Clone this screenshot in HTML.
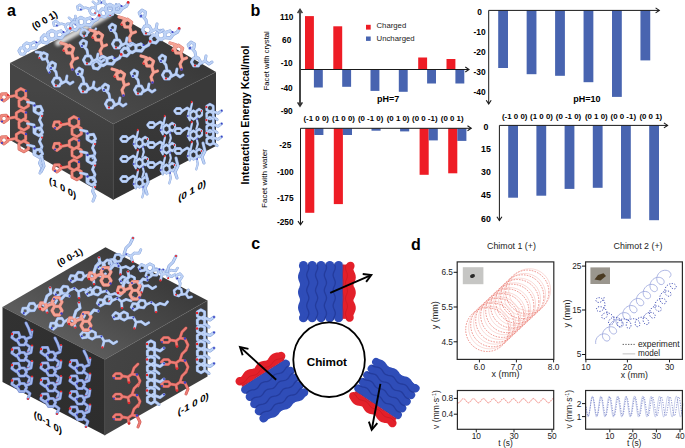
<!DOCTYPE html>
<html><head><meta charset="utf-8"><style>
html,body{margin:0;padding:0;background:#fff;}
svg{display:block;}
text{font-family:"Liberation Sans",sans-serif;}
</style></head><body>
<svg width="685" height="448" viewBox="0 0 685 448">
<rect width="685" height="448" fill="#fff"/>
<text x="250.6" y="15.8" font-size="16" font-weight="bold" text-anchor="start" fill="#000" >b</text>
<text transform="translate(249.2,115) rotate(-90)" font-size="10.5" font-weight="bold" text-anchor="middle" fill="#000">Interaction Energy Kcal/mol</text>
<text transform="translate(269.0,60.8) rotate(-90)" font-size="7.66" text-anchor="middle" fill="#000">Facet with crystal</text>
<text transform="translate(267.4,178.5) rotate(-90)" font-size="8.1" text-anchor="middle" fill="#000">Facet with water</text>
<text x="286.7" y="19.8" font-size="8.3" font-weight="bold" text-anchor="middle" fill="#000" >110</text>
<text x="286.7" y="43.0" font-size="8.3" font-weight="bold" text-anchor="middle" fill="#000" >60</text>
<text x="286.7" y="66.3" font-size="8.3" font-weight="bold" text-anchor="middle" fill="#000" >-10</text>
<text x="286.7" y="90.5" font-size="8.3" font-weight="bold" text-anchor="middle" fill="#000" >-40</text>
<text x="286.7" y="113.6" font-size="8.3" font-weight="bold" text-anchor="middle" fill="#000" >-90</text>
<rect x="305.00" y="16.10" width="8.90" height="53.40" fill="#ee1c25"/>
<rect x="313.90" y="69.50" width="8.90" height="18.00" fill="#4864b0"/>
<rect x="333.30" y="26.30" width="8.90" height="43.20" fill="#ee1c25"/>
<rect x="342.20" y="69.50" width="8.90" height="17.30" fill="#4864b0"/>
<rect x="370.50" y="69.50" width="8.90" height="21.40" fill="#4864b0"/>
<rect x="398.80" y="69.50" width="8.90" height="22.30" fill="#4864b0"/>
<rect x="418.20" y="57.50" width="8.90" height="12.00" fill="#ee1c25"/>
<rect x="427.10" y="69.50" width="8.90" height="14.00" fill="#4864b0"/>
<rect x="446.50" y="59.00" width="8.90" height="10.50" fill="#ee1c25"/>
<rect x="455.40" y="69.50" width="8.90" height="14.00" fill="#4864b0"/>
<line x1="300" y1="69.5" x2="469" y2="69.5" stroke="#1a1a1a" stroke-width="1.0"/>
<polyline points="465.30,72.00 469.00,69.50 465.30,67.00" fill="none" stroke="#1a1a1a" stroke-width="1.1" stroke-linejoin="miter"/>
<line x1="300" y1="9.5" x2="300" y2="106" stroke="#505050" stroke-width="1.6"/>
<line x1="300" y1="60" x2="300" y2="9.5" stroke="#404040" stroke-width="1.4"/>
<polyline points="302.40,13.20 300.00,9.50 297.60,13.20" fill="none" stroke="#404040" stroke-width="1.54" stroke-linejoin="miter"/>
<line x1="300" y1="60" x2="300" y2="106" stroke="#303030" stroke-width="1.4"/>
<polyline points="297.60,102.30 300.00,106.00 302.40,102.30" fill="none" stroke="#303030" stroke-width="1.54" stroke-linejoin="miter"/>
<rect x="366.00" y="24.80" width="4.70" height="4.80" fill="#ee1c25"/>
<rect x="366.00" y="36.50" width="4.70" height="4.40" fill="#4864b0"/>
<text x="376.5" y="28.4" font-size="7.75" text-anchor="start" fill="#222" >Charged</text>
<text x="376.5" y="41.1" font-size="7.8" text-anchor="start" fill="#222" >Uncharged</text>
<text x="377" y="102.3" font-size="9" font-weight="bold" text-anchor="start" fill="#000" >pH=7</text>
<text x="285.3" y="147.5" font-size="8.3" font-weight="bold" text-anchor="middle" fill="#000" >-25</text>
<text x="285.3" y="174.7" font-size="8.3" font-weight="bold" text-anchor="middle" fill="#000" >-100</text>
<text x="285.3" y="201.0" font-size="8.3" font-weight="bold" text-anchor="middle" fill="#000" >-175</text>
<text x="285.3" y="225.2" font-size="8.3" font-weight="bold" text-anchor="middle" fill="#000" >-250</text>
<rect x="305.20" y="128.30" width="9.10" height="84.50" fill="#ee1c25"/>
<rect x="314.30" y="128.30" width="9.10" height="6.70" fill="#4864b0"/>
<rect x="333.80" y="128.30" width="9.10" height="75.80" fill="#ee1c25"/>
<rect x="342.90" y="128.30" width="9.10" height="6.70" fill="#4864b0"/>
<rect x="371.50" y="128.30" width="9.10" height="2.40" fill="#4864b0"/>
<rect x="400.10" y="128.30" width="9.10" height="3.10" fill="#4864b0"/>
<rect x="419.60" y="128.30" width="9.10" height="46.50" fill="#ee1c25"/>
<rect x="428.70" y="128.30" width="9.10" height="12.10" fill="#4864b0"/>
<rect x="448.20" y="128.30" width="9.10" height="45.00" fill="#ee1c25"/>
<rect x="457.30" y="128.30" width="9.10" height="12.60" fill="#4864b0"/>
<line x1="300.5" y1="128.3" x2="471.2" y2="128.3" stroke="#1a1a1a" stroke-width="1.0"/>
<polyline points="467.50,130.80 471.20,128.30 467.50,125.80" fill="none" stroke="#1a1a1a" stroke-width="1.1" stroke-linejoin="miter"/>
<line x1="300.5" y1="128.3" x2="300.5" y2="224.8" stroke="#1a1a1a" stroke-width="1.0"/>
<polyline points="298.00,221.10 300.50,224.80 303.00,221.10" fill="none" stroke="#1a1a1a" stroke-width="1.1" stroke-linejoin="miter"/>
<text x="316.2" y="120.9" font-size="7.9" font-weight="bold" text-anchor="middle" fill="#000" >(-1 0 0)</text>
<text x="343.5" y="120.9" font-size="7.9" font-weight="bold" text-anchor="middle" fill="#000" >(1 0 0)</text>
<text x="370.6" y="120.9" font-size="7.9" font-weight="bold" text-anchor="middle" fill="#000" >(0 -1 0)</text>
<text x="398.1" y="120.9" font-size="7.9" font-weight="bold" text-anchor="middle" fill="#000" >(0 1 0)</text>
<text x="424.8" y="120.9" font-size="7.9" font-weight="bold" text-anchor="middle" fill="#000" >(0 0 -1)</text>
<text x="452.2" y="120.9" font-size="7.9" font-weight="bold" text-anchor="middle" fill="#000" >(0 0 1)</text>
<text x="479.5" y="15.0" font-size="8.4" font-weight="bold" text-anchor="middle" fill="#000" >0</text>
<text x="479.5" y="35.1" font-size="8.4" font-weight="bold" text-anchor="middle" fill="#000" >-10</text>
<text x="479.5" y="55.1" font-size="8.4" font-weight="bold" text-anchor="middle" fill="#000" >-20</text>
<text x="479.5" y="75.3" font-size="8.4" font-weight="bold" text-anchor="middle" fill="#000" >-30</text>
<text x="479.5" y="95.2" font-size="8.4" font-weight="bold" text-anchor="middle" fill="#000" >-40</text>
<rect x="498.20" y="10.40" width="9.80" height="57.60" fill="#4864b0"/>
<rect x="526.65" y="10.40" width="9.80" height="63.80" fill="#4864b0"/>
<rect x="555.10" y="10.40" width="9.80" height="65.40" fill="#4864b0"/>
<rect x="583.55" y="10.40" width="9.80" height="71.80" fill="#4864b0"/>
<rect x="612.00" y="10.40" width="9.80" height="86.50" fill="#4864b0"/>
<rect x="640.45" y="10.40" width="9.80" height="50.00" fill="#4864b0"/>
<line x1="488.7" y1="10.4" x2="659.3" y2="10.4" stroke="#1a1a1a" stroke-width="1.0"/>
<polyline points="655.60,12.90 659.30,10.40 655.60,7.90" fill="none" stroke="#1a1a1a" stroke-width="1.1" stroke-linejoin="miter"/>
<line x1="488.7" y1="10.4" x2="488.7" y2="103.9" stroke="#1a1a1a" stroke-width="1.0"/>
<polyline points="486.20,100.20 488.70,103.90 491.20,100.20" fill="none" stroke="#1a1a1a" stroke-width="1.1" stroke-linejoin="miter"/>
<text x="573.2" y="102.2" font-size="9" font-weight="bold" text-anchor="start" fill="#000" >pH=10</text>
<text x="514.7" y="119.0" font-size="7.9" font-weight="bold" text-anchor="middle" fill="#000" >(-1 0 0)</text>
<text x="541.5" y="119.0" font-size="7.9" font-weight="bold" text-anchor="middle" fill="#000" >(1 0 0)</text>
<text x="568.5" y="119.0" font-size="7.9" font-weight="bold" text-anchor="middle" fill="#000" >(0 -1 0)</text>
<text x="596.3" y="119.0" font-size="7.9" font-weight="bold" text-anchor="middle" fill="#000" >(0 1 0)</text>
<text x="623.3" y="119.0" font-size="7.9" font-weight="bold" text-anchor="middle" fill="#000" >(0 0 -1)</text>
<text x="650.8" y="119.0" font-size="7.9" font-weight="bold" text-anchor="middle" fill="#000" >(0 0 1)</text>
<text x="486" y="130.4" font-size="8.8" font-weight="bold" text-anchor="middle" fill="#000" >0</text>
<text x="486" y="151.6" font-size="8.8" font-weight="bold" text-anchor="middle" fill="#000" >15</text>
<text x="486" y="174.6" font-size="8.8" font-weight="bold" text-anchor="middle" fill="#000" >30</text>
<text x="486" y="198.2" font-size="8.8" font-weight="bold" text-anchor="middle" fill="#000" >45</text>
<text x="486" y="221.6" font-size="8.8" font-weight="bold" text-anchor="middle" fill="#000" >60</text>
<rect x="508.20" y="125.40" width="9.80" height="72.30" fill="#4864b0"/>
<rect x="536.40" y="125.40" width="9.80" height="70.30" fill="#4864b0"/>
<rect x="564.60" y="125.40" width="9.80" height="63.50" fill="#4864b0"/>
<rect x="592.80" y="125.40" width="9.80" height="62.40" fill="#4864b0"/>
<rect x="621.00" y="125.40" width="9.80" height="93.30" fill="#4864b0"/>
<rect x="649.20" y="125.40" width="9.80" height="94.80" fill="#4864b0"/>
<line x1="499.4" y1="125.4" x2="667.6" y2="125.4" stroke="#1a1a1a" stroke-width="1.0"/>
<polyline points="663.90,127.90 667.60,125.40 663.90,122.90" fill="none" stroke="#1a1a1a" stroke-width="1.1" stroke-linejoin="miter"/>
<line x1="499.4" y1="125.4" x2="499.4" y2="220.5" stroke="#1a1a1a" stroke-width="1.0"/>
<polyline points="496.90,216.80 499.40,220.50 501.90,216.80" fill="none" stroke="#1a1a1a" stroke-width="1.1" stroke-linejoin="miter"/>
<defs>
<linearGradient id="gTop1" x1="112" y1="12" x2="62" y2="92" gradientUnits="userSpaceOnUse"><stop offset="0" stop-color="#3a3a3a"/><stop offset="0.5" stop-color="#434343"/><stop offset="1" stop-color="#4b4b4b"/></linearGradient>
<linearGradient id="gLeft1" x1="0" y1="90" x2="0" y2="200" gradientUnits="userSpaceOnUse"><stop offset="0" stop-color="#454545"/><stop offset="1" stop-color="#383838"/></linearGradient>
<linearGradient id="gRight1" x1="0" y1="100" x2="0" y2="200" gradientUnits="userSpaceOnUse"><stop offset="0" stop-color="#3a3a3a"/><stop offset="1" stop-color="#323232"/></linearGradient>
<linearGradient id="gTop2" x1="105" y1="247" x2="54" y2="332" gradientUnits="userSpaceOnUse"><stop offset="0" stop-color="#3c3c3c"/><stop offset="0.5" stop-color="#4a4a4a"/><stop offset="1" stop-color="#5c5c5c"/></linearGradient>
<linearGradient id="gLeft2" x1="2" y1="307" x2="105" y2="435" gradientUnits="userSpaceOnUse"><stop offset="0" stop-color="#323232"/><stop offset="1" stop-color="#2d2d2d"/></linearGradient>
<linearGradient id="gRight2" x1="105" y1="358" x2="207" y2="382" gradientUnits="userSpaceOnUse"><stop offset="0" stop-color="#444444"/><stop offset="1" stop-color="#3d3d3d"/></linearGradient>
</defs>
<polygon points="10,63 112,12 216,72 113.3,124" fill="url(#gTop1)" />
<polygon points="10,63 113.3,124 113.3,199.8 10,140" fill="url(#gLeft1)" />
<polygon points="113.3,124 216,72 216,146 113.3,199.8" fill="url(#gRight1)" />
<polyline points="10,63 113.3,124 216,72" fill="none" stroke="#5e5e5e" stroke-width="1.2" opacity="0.25"/>
<line x1="113.3" y1="124" x2="113.3" y2="199.8" stroke="#484848" stroke-width="1.0"/>
<polygon points="2.5,307 105.5,247.3 207.5,300.5 104.8,359.5" fill="url(#gTop2)" />
<polygon points="2.5,307 104.8,359.5 104.8,435.3 2.5,382" fill="url(#gLeft2)" />
<polygon points="104.8,359.5 207.5,300.5 207.5,376.5 104.8,435.3" fill="url(#gRight2)" />
<polyline points="2.5,307 104.8,359.5 207.5,300.5" fill="none" stroke="#5e5e5e" stroke-width="1.2" opacity="0.25"/>
<line x1="104.8" y1="359.5" x2="104.8" y2="435.3" stroke="#484848" stroke-width="1.0"/>
<defs><g id="uS"><path d="M-4.96,-5.79 L-8.89,-3.40 L-12.93,-5.61 L-13.04,-10.21 L-9.11,-12.60 L-5.07,-10.39Z M-4.60,-10.50 L0.00,-12.00 L3.00,-8.50 L0.50,-5.00 L-4.40,-5.50 M3.00,-8.50 L7.50,-11.00 L9.00,-14.00 M-11.38,-3.17 L-14.16,-0.02 L-18.28,-0.85 L-19.62,-4.83 L-16.84,-7.98 L-12.72,-7.15Z" fill="none" stroke="#86a2da" stroke-width="3.3" stroke-linejoin="round" stroke-linecap="round"/><path d="M0.00,0.00 L5.00,1.50 M12.61,5.23 L10.98,10.01 L5.92,9.94 L4.43,5.11 L8.56,2.20Z M11.00,11.00 L12.50,16.50 L10.00,21.00 L11.50,26.00 M12.50,16.50 L16.50,15.00 M6.00,2.00 L3.00,7.00" fill="none" stroke="#d8766a" stroke-width="3.3" stroke-linejoin="round" stroke-linecap="round"/><path d="M-4.96,-5.79 L-8.89,-3.40 L-12.93,-5.61 L-13.04,-10.21 L-9.11,-12.60 L-5.07,-10.39Z M-4.60,-10.50 L0.00,-12.00 L3.00,-8.50 L0.50,-5.00 L-4.40,-5.50 M3.00,-8.50 L7.50,-11.00 L9.00,-14.00 M-11.38,-3.17 L-14.16,-0.02 L-18.28,-0.85 L-19.62,-4.83 L-16.84,-7.98 L-12.72,-7.15Z" fill="none" stroke="#bed3f6" stroke-width="2.4" stroke-linejoin="round" stroke-linecap="round"/><path d="M0.00,0.00 L5.00,1.50 M12.61,5.23 L10.98,10.01 L5.92,9.94 L4.43,5.11 L8.56,2.20Z M11.00,11.00 L12.50,16.50 L10.00,21.00 L11.50,26.00 M12.50,16.50 L16.50,15.00 M6.00,2.00 L3.00,7.00" fill="none" stroke="#f4a395" stroke-width="2.4" stroke-linejoin="round" stroke-linecap="round"/><circle cx="9.2" cy="-14.6" r="1.3" fill="#e3262b"/><circle cx="11.5" cy="26.5" r="1.3" fill="#3a3fc4"/><circle cx="2.5" cy="-11" r="1.1" fill="#3a3fc4"/><circle cx="2.6" cy="7.6" r="1.1" fill="#e3262b"/></g><g id="uB"><path d="M-4.96,-5.79 L-8.89,-3.40 L-12.93,-5.61 L-13.04,-10.21 L-9.11,-12.60 L-5.07,-10.39Z M-4.60,-10.50 L0.00,-12.00 L3.00,-8.50 L0.50,-5.00 L-4.40,-5.50 M3.00,-8.50 L7.50,-11.00 L9.00,-14.00 M-11.38,-3.17 L-14.16,-0.02 L-18.28,-0.85 L-19.62,-4.83 L-16.84,-7.98 L-12.72,-7.15Z" fill="none" stroke="#86a2da" stroke-width="3.3" stroke-linejoin="round" stroke-linecap="round"/><path d="M0.00,0.00 L5.00,1.50 M12.61,5.23 L10.98,10.01 L5.92,9.94 L4.43,5.11 L8.56,2.20Z M11.00,11.00 L12.50,16.50 L10.00,21.00 L11.50,26.00 M12.50,16.50 L16.50,15.00 M6.00,2.00 L3.00,7.00" fill="none" stroke="#86a2da" stroke-width="3.3" stroke-linejoin="round" stroke-linecap="round"/><path d="M-4.96,-5.79 L-8.89,-3.40 L-12.93,-5.61 L-13.04,-10.21 L-9.11,-12.60 L-5.07,-10.39Z M-4.60,-10.50 L0.00,-12.00 L3.00,-8.50 L0.50,-5.00 L-4.40,-5.50 M3.00,-8.50 L7.50,-11.00 L9.00,-14.00 M-11.38,-3.17 L-14.16,-0.02 L-18.28,-0.85 L-19.62,-4.83 L-16.84,-7.98 L-12.72,-7.15Z" fill="none" stroke="#bed3f6" stroke-width="2.4" stroke-linejoin="round" stroke-linecap="round"/><path d="M0.00,0.00 L5.00,1.50 M12.61,5.23 L10.98,10.01 L5.92,9.94 L4.43,5.11 L8.56,2.20Z M11.00,11.00 L12.50,16.50 L10.00,21.00 L11.50,26.00 M12.50,16.50 L16.50,15.00 M6.00,2.00 L3.00,7.00" fill="none" stroke="#bed3f6" stroke-width="2.4" stroke-linejoin="round" stroke-linecap="round"/><circle cx="9.2" cy="-14.6" r="1.3" fill="#e3262b"/><circle cx="11.5" cy="26.5" r="1.3" fill="#3a3fc4"/><circle cx="2.5" cy="-11" r="1.1" fill="#3a3fc4"/><circle cx="2.6" cy="7.6" r="1.1" fill="#e3262b"/></g><g id="ell"><path d="M4.60,0.00 L2.30,3.98 L-2.30,3.98 L-4.60,0.00 L-2.30,-3.98 L2.30,-3.98Z M0.00,-4.50 L-1.00,-10.00 L-3.50,-13.00 M-2.13,-14.06 L-6.09,-13.49 L-7.85,-17.08 L-4.98,-19.87 L-1.45,-18.00Z M4.50,1.50 L9.00,-1.00 L13.00,2.00 L16.00,0.00 M9.00,-1.00 L10.00,-6.00" fill="none" stroke="#86a2da" stroke-width="3.0" stroke-linejoin="round" stroke-linecap="round"/><path d="M4.60,0.00 L2.30,3.98 L-2.30,3.98 L-4.60,0.00 L-2.30,-3.98 L2.30,-3.98Z M0.00,-4.50 L-1.00,-10.00 L-3.50,-13.00 M-2.13,-14.06 L-6.09,-13.49 L-7.85,-17.08 L-4.98,-19.87 L-1.45,-18.00Z M4.50,1.50 L9.00,-1.00 L13.00,2.00 L16.00,0.00 M9.00,-1.00 L10.00,-6.00" fill="none" stroke="#bed3f6" stroke-width="2.1" stroke-linejoin="round" stroke-linecap="round"/><circle cx="-1" cy="3.5" r="1.1" fill="#e3262b"/><circle cx="-6" cy="-14" r="1.1" fill="#3a3fc4"/></g><g id="lf"><path d="M-13.27,4.15 L-16.94,6.90 L-20.69,4.26 L-19.34,-0.12 L-14.75,-0.19Z M-13.20,3.00 L-5.40,1.50 M4.74,2.59 L0.13,5.40 L-4.61,2.81 L-4.74,-2.59 L-0.13,-5.40 L4.61,-2.81Z M7.44,11.89 L2.83,14.70 L-1.91,12.11 L-2.04,6.71 L2.57,3.90 L7.31,6.49Z" fill="none" stroke="#cc645a" stroke-width="3.0" stroke-linejoin="round" stroke-linecap="round"/><path d="M6.50,8.00 L13.00,9.50 L13.00,17.00 M21.62,16.83 L17.98,20.17 L13.68,17.74 L14.66,12.91 L19.57,12.34Z M21.00,20.00 L18.50,26.00 L21.00,31.00 L19.00,36.00" fill="none" stroke="#86a2da" stroke-width="3.0" stroke-linejoin="round" stroke-linecap="round"/><path d="M-13.27,4.15 L-16.94,6.90 L-20.69,4.26 L-19.34,-0.12 L-14.75,-0.19Z M-13.20,3.00 L-5.40,1.50 M4.74,2.59 L0.13,5.40 L-4.61,2.81 L-4.74,-2.59 L-0.13,-5.40 L4.61,-2.81Z M7.44,11.89 L2.83,14.70 L-1.91,12.11 L-2.04,6.71 L2.57,3.90 L7.31,6.49Z" fill="none" stroke="#f08a7e" stroke-width="2.1" stroke-linejoin="round" stroke-linecap="round"/><path d="M6.50,8.00 L13.00,9.50 L13.00,17.00 M21.62,16.83 L17.98,20.17 L13.68,17.74 L14.66,12.91 L19.57,12.34Z M21.00,20.00 L18.50,26.00 L21.00,31.00 L19.00,36.00" fill="none" stroke="#bed3f6" stroke-width="2.1" stroke-linejoin="round" stroke-linecap="round"/><circle cx="5" cy="-3" r="1.2" fill="#3a3fc4"/><circle cx="13.5" cy="11.5" r="1.2" fill="#3a3fc4"/><circle cx="-19" cy="6" r="1.1" fill="#3a3fc4"/><circle cx="-13" cy="1" r="1.1" fill="#e3262b"/><circle cx="21" cy="22" r="1.0" fill="#e3262b"/></g><g id="rf"><path d="M-6.50,0.00 L-9.25,2.38 L-14.75,2.38 L-17.50,0.00 L-14.75,-2.38 L-9.25,-2.38Z M-6.50,0.00 L0.00,-3.00 L5.00,-1.00 L7.00,-8.00 M13.39,6.04 L9.12,8.25 L4.73,6.21 L4.61,1.96 L8.88,-0.25 L13.27,1.79Z M20.95,3.83 L17.11,5.82 L13.16,3.99 L13.05,0.17 L16.89,-1.82 L20.84,0.01Z M3.00,-1.00 L1.00,5.00 L4.00,9.00 M13.00,6.00 L15.00,13.00 L13.00,18.00" fill="none" stroke="#86a2da" stroke-width="3.0" stroke-linejoin="round" stroke-linecap="round"/><path d="M-6.50,0.00 L-9.25,2.38 L-14.75,2.38 L-17.50,0.00 L-14.75,-2.38 L-9.25,-2.38Z M-6.50,0.00 L0.00,-3.00 L5.00,-1.00 L7.00,-8.00 M13.39,6.04 L9.12,8.25 L4.73,6.21 L4.61,1.96 L8.88,-0.25 L13.27,1.79Z M20.95,3.83 L17.11,5.82 L13.16,3.99 L13.05,0.17 L16.89,-1.82 L20.84,0.01Z M3.00,-1.00 L1.00,5.00 L4.00,9.00 M13.00,6.00 L15.00,13.00 L13.00,18.00" fill="none" stroke="#bed3f6" stroke-width="2.1" stroke-linejoin="round" stroke-linecap="round"/><circle cx="6.5" cy="-9" r="1.2" fill="#e3262b"/><circle cx="1" cy="5" r="1.1" fill="#3a3fc4"/><circle cx="20" cy="0" r="1.0" fill="#e3262b"/><circle cx="14" cy="8" r="1.0" fill="#3a3fc4"/></g><g id="bt"><path d="M4.60,0.00 L2.30,3.98 L-2.30,3.98 L-4.60,0.00 L-2.30,-3.98 L2.30,-3.98Z M12.60,0.00 L10.30,3.98 L5.70,3.98 L3.40,0.00 L5.70,-3.98 L10.30,-3.98Z M-4.67,3.82 L-8.70,5.73 L-11.77,2.49 L-9.63,-1.43 L-5.24,-0.61Z M12.50,0.00 L16.00,4.00 L15.00,9.00" fill="none" stroke="#d8766a" stroke-width="3.0" stroke-linejoin="round" stroke-linecap="round"/><path d="M-10.00,-5.00 L-14.00,-10.00 L-12.00,-16.00 M22.82,11.18 L19.89,13.90 L16.07,12.72 L15.18,8.82 L18.11,6.10 L21.93,7.28Z M22.00,6.00 L24.00,0.00 L28.00,-3.00" fill="none" stroke="#86a2da" stroke-width="3.0" stroke-linejoin="round" stroke-linecap="round"/><path d="M4.60,0.00 L2.30,3.98 L-2.30,3.98 L-4.60,0.00 L-2.30,-3.98 L2.30,-3.98Z M12.60,0.00 L10.30,3.98 L5.70,3.98 L3.40,0.00 L5.70,-3.98 L10.30,-3.98Z M-4.67,3.82 L-8.70,5.73 L-11.77,2.49 L-9.63,-1.43 L-5.24,-0.61Z M12.50,0.00 L16.00,4.00 L15.00,9.00" fill="none" stroke="#f4a395" stroke-width="2.1" stroke-linejoin="round" stroke-linecap="round"/><path d="M-10.00,-5.00 L-14.00,-10.00 L-12.00,-16.00 M22.82,11.18 L19.89,13.90 L16.07,12.72 L15.18,8.82 L18.11,6.10 L21.93,7.28Z M22.00,6.00 L24.00,0.00 L28.00,-3.00" fill="none" stroke="#bed3f6" stroke-width="2.1" stroke-linejoin="round" stroke-linecap="round"/><circle cx="15" cy="9.5" r="1.2" fill="#e3262b"/><circle cx="-12" cy="-16.5" r="1.1" fill="#e3262b"/><circle cx="3" cy="3" r="1.1" fill="#3a3fc4"/><circle cx="24" cy="0" r="1.1" fill="#3a3fc4"/></g><g id="bb"><path d="M4.31,0.87 L1.40,4.17 L-2.91,3.30 L-4.31,-0.87 L-1.40,-4.17 L2.91,-3.30Z M-4.84,3.73 L-8.67,5.54 L-11.57,2.46 L-9.54,-1.25 L-5.38,-0.47Z M4.50,1.00 L10.00,-1.00 L14.00,3.00 L19.00,1.00 M14.00,3.00 L14.00,9.00 M19.00,1.00 L24.00,3.00 L27.00,0.00" fill="none" stroke="#86a2da" stroke-width="3.0" stroke-linejoin="round" stroke-linecap="round"/><path d="M4.31,0.87 L1.40,4.17 L-2.91,3.30 L-4.31,-0.87 L-1.40,-4.17 L2.91,-3.30Z M-4.84,3.73 L-8.67,5.54 L-11.57,2.46 L-9.54,-1.25 L-5.38,-0.47Z M4.50,1.00 L10.00,-1.00 L14.00,3.00 L19.00,1.00 M14.00,3.00 L14.00,9.00 M19.00,1.00 L24.00,3.00 L27.00,0.00" fill="none" stroke="#bed3f6" stroke-width="2.1" stroke-linejoin="round" stroke-linecap="round"/><circle cx="14" cy="9.8" r="1.2" fill="#e3262b"/><circle cx="-10" cy="4" r="1.1" fill="#3a3fc4"/><circle cx="10" cy="-1" r="1.0" fill="#3a3fc4"/></g><g id="lc"><path d="M4.20,1.30 L0.06,4.40 L-4.16,1.42 L-2.64,-3.52 L2.54,-3.60Z M10.60,5.00 L8.30,8.98 L3.70,8.98 L1.40,5.00 L3.70,1.02 L8.30,1.02Z M10.00,3.00 L15.00,1.00 L16.00,-5.00 M10.00,8.00 L14.00,11.00 L12.00,16.00" fill="none" stroke="#6279c2" stroke-width="3.0" stroke-linejoin="round" stroke-linecap="round"/><path d="M4.20,1.30 L0.06,4.40 L-4.16,1.42 L-2.64,-3.52 L2.54,-3.60Z M10.60,5.00 L8.30,8.98 L3.70,8.98 L1.40,5.00 L3.70,1.02 L8.30,1.02Z M10.00,3.00 L15.00,1.00 L16.00,-5.00 M10.00,8.00 L14.00,11.00 L12.00,16.00" fill="none" stroke="#a2b7ec" stroke-width="2.1" stroke-linejoin="round" stroke-linecap="round"/><circle cx="-4" cy="-2" r="1.2" fill="#e3262b"/><circle cx="16" cy="-6" r="1.1" fill="#e3262b"/><circle cx="12" cy="16.5" r="1.0" fill="#e3262b"/><circle cx="3" cy="4" r="1.0" fill="#3a3fc4"/></g><g id="rs"><path d="M4.60,0.00 L2.30,2.39 L-2.30,2.39 L-4.60,0.00 L-2.30,-2.39 L2.30,-2.39Z M4.60,0.00 L10.00,1.00 L14.00,-2.00 L19.00,-1.00 M14.00,-2.00 L16.00,-8.00 L20.00,-12.00 M19.00,-1.00 L22.00,5.00 L20.00,10.00 M10.00,1.00 L11.00,6.00" fill="none" stroke="#c8544e" stroke-width="2.9" stroke-linejoin="round" stroke-linecap="round"/><path d="M4.60,0.00 L2.30,2.39 L-2.30,2.39 L-4.60,0.00 L-2.30,-2.39 L2.30,-2.39Z M4.60,0.00 L10.00,1.00 L14.00,-2.00 L19.00,-1.00 M14.00,-2.00 L16.00,-8.00 L20.00,-12.00 M19.00,-1.00 L22.00,5.00 L20.00,10.00 M10.00,1.00 L11.00,6.00" fill="none" stroke="#ec7d76" stroke-width="2.0" stroke-linejoin="round" stroke-linecap="round"/><circle cx="11" cy="6.5" r="1.2" fill="#e3262b"/><circle cx="19" cy="-1.5" r="1.3" fill="#3a3fc4"/><circle cx="-4" cy="2" r="1.0" fill="#3a3fc4"/></g><g id="rc"><path d="M3.69,2.01 L0.10,4.20 L-3.59,2.19 L-3.69,-2.01 L-0.10,-4.20 L3.59,-2.19Z M3.69,10.01 L0.10,12.20 L-3.59,10.19 L-3.69,5.99 L-0.10,3.80 L3.59,5.81Z M4.00,4.00 L9.00,6.00 L13.00,3.00 M4.00,10.00 L8.00,13.00" fill="none" stroke="#86a2da" stroke-width="3.0" stroke-linejoin="round" stroke-linecap="round"/><path d="M3.69,2.01 L0.10,4.20 L-3.59,2.19 L-3.69,-2.01 L-0.10,-4.20 L3.59,-2.19Z M3.69,10.01 L0.10,12.20 L-3.59,10.19 L-3.69,5.99 L-0.10,3.80 L3.59,5.81Z M4.00,4.00 L9.00,6.00 L13.00,3.00 M4.00,10.00 L8.00,13.00" fill="none" stroke="#bed3f6" stroke-width="2.1" stroke-linejoin="round" stroke-linecap="round"/><circle cx="-4" cy="-1" r="1.2" fill="#e3262b"/><circle cx="13" cy="3" r="1.0" fill="#3a3fc4"/></g><g id="bs"><path d="M-10.37,5.12 L-13.95,7.80 L-17.60,5.23 L-16.28,0.96 L-11.81,0.89Z M-10.30,4.00 L-5.00,2.00 M5.00,0.00 L2.50,4.33 L-2.50,4.33 L-5.00,0.00 L-2.50,-4.33 L2.50,-4.33Z M5.00,8.66 L2.50,12.99 L-2.50,12.99 L-5.00,8.66 L-2.50,4.33 L2.50,4.33Z" fill="none" stroke="#d8766a" stroke-width="3.3" stroke-linejoin="round" stroke-linecap="round"/><path d="M-12.00,0.00 L-10.00,-6.00 L-6.00,-9.00 L-7.00,-14.00 M4.50,-3.00 L8.00,-7.00 L12.00,-6.00" fill="none" stroke="#86a2da" stroke-width="3.3" stroke-linejoin="round" stroke-linecap="round"/><path d="M-10.37,5.12 L-13.95,7.80 L-17.60,5.23 L-16.28,0.96 L-11.81,0.89Z M-10.30,4.00 L-5.00,2.00 M5.00,0.00 L2.50,4.33 L-2.50,4.33 L-5.00,0.00 L-2.50,-4.33 L2.50,-4.33Z M5.00,8.66 L2.50,12.99 L-2.50,12.99 L-5.00,8.66 L-2.50,4.33 L2.50,4.33Z" fill="none" stroke="#f4a395" stroke-width="2.4" stroke-linejoin="round" stroke-linecap="round"/><path d="M-12.00,0.00 L-10.00,-6.00 L-6.00,-9.00 L-7.00,-14.00 M4.50,-3.00 L8.00,-7.00 L12.00,-6.00" fill="none" stroke="#bed3f6" stroke-width="2.4" stroke-linejoin="round" stroke-linecap="round"/><circle cx="4.5" cy="11.5" r="1.2" fill="#3a3fc4"/><circle cx="-17" cy="7" r="1.2" fill="#e3262b"/><circle cx="-7" cy="-14.5" r="1.1" fill="#e3262b"/><circle cx="12.5" cy="-6" r="1.0" fill="#3a3fc4"/><circle cx="-3" cy="-3" r="1.0" fill="#3a3fc4"/></g></defs>
<filter id="blr" x="-20%" y="-50%" width="140%" height="200%"><feGaussianBlur stdDeviation="1.6"/></filter>
<path d="M58,43 L108,15" stroke="#ffffff" stroke-width="6" stroke-linecap="round" opacity="0.8" filter="url(#blr)"/>
<use href="#uB" transform="translate(36.0,52.0) rotate(-10) scale(0.850,0.850)"/>
<use href="#ell" transform="translate(110.0,12.0) rotate(-20) scale(0.850,0.850)"/>
<use href="#ell" transform="translate(69.0,27.0) rotate(-60) scale(0.800,0.800)"/>
<use href="#ell" transform="translate(93.0,11.0) rotate(-60) scale(0.800,0.800)"/>
<use href="#ell" transform="translate(84.0,33.0) rotate(-20) scale(0.800,0.800)"/>
<use href="#uS" transform="translate(119.0,17.0) rotate(0) scale(1.000,1.000)"/>
<use href="#uS" transform="translate(90.0,30.0) rotate(0) scale(1.000,1.000)"/>
<use href="#uS" transform="translate(61.0,43.0) rotate(0) scale(1.000,1.000)"/>
<use href="#uS" transform="translate(170.0,43.0) rotate(0) scale(1.000,1.000)"/>
<use href="#uS" transform="translate(141.0,56.0) rotate(0) scale(1.000,1.000)"/>
<use href="#uS" transform="translate(112.0,69.0) rotate(0) scale(1.000,1.000)"/>
<use href="#ell" transform="translate(117.0,44.0) rotate(0) scale(1.000,1.000)"/>
<use href="#ell" transform="translate(88.0,60.0) rotate(0) scale(1.000,1.000)"/>
<use href="#ell" transform="translate(147.0,30.0) rotate(0) scale(1.000,1.000)"/>
<use href="#ell" transform="translate(57.0,82.0) rotate(0) scale(1.000,1.000)"/>
<use href="#ell" transform="translate(110.0,104.0) rotate(0) scale(1.000,1.000)"/>
<use href="#ell" transform="translate(139.0,90.0) rotate(0) scale(1.000,1.000)"/>
<use href="#ell" transform="translate(167.0,75.0) rotate(0) scale(1.000,1.000)"/>
<use href="#ell" transform="translate(196.0,62.0) rotate(0) scale(1.000,1.000)"/>
<use href="#ell" transform="translate(84.0,88.0) rotate(0) scale(1.000,1.000)"/>
<use href="#lf" transform="translate(21.0,94.0) rotate(0) scale(1.000,1.000)"/>
<use href="#lf" transform="translate(21.0,115.5) rotate(0) scale(1.000,1.000)"/>
<use href="#lf" transform="translate(21.0,137.0) rotate(0) scale(1.000,1.000)"/>
<use href="#lf" transform="translate(74.0,122.0) rotate(0) scale(1.000,1.000)"/>
<use href="#lf" transform="translate(74.0,143.5) rotate(0) scale(1.000,1.000)"/>
<use href="#lf" transform="translate(74.0,165.0) rotate(0) scale(1.000,1.000)"/>
<path d="M42,158 L44,166 L41,172" stroke="#86a2da" stroke-width="3" fill="none"/><path d="M42,158 L44,166 L41,172" stroke="#bed3f6" stroke-width="2" fill="none"/>
<use href="#rf" transform="translate(133.0,139.0) rotate(0) scale(0.720,1.000)"/>
<use href="#rf" transform="translate(160.0,125.0) rotate(0) scale(0.720,1.000)"/>
<use href="#rf" transform="translate(187.0,111.0) rotate(0) scale(0.720,1.000)"/>
<use href="#rf" transform="translate(133.0,159.0) rotate(0) scale(0.720,1.000)"/>
<use href="#rf" transform="translate(160.0,145.0) rotate(0) scale(0.720,1.000)"/>
<use href="#rf" transform="translate(187.0,131.0) rotate(0) scale(0.720,1.000)"/>
<use href="#rf" transform="translate(133.0,179.0) rotate(0) scale(0.720,1.000)"/>
<use href="#rf" transform="translate(160.0,165.0) rotate(0) scale(0.720,1.000)"/>
<use href="#rf" transform="translate(187.0,151.0) rotate(0) scale(0.720,1.000)"/>
<use href="#rc" transform="translate(210.0,108.0) rotate(0) scale(0.900,0.900)"/>
<use href="#rc" transform="translate(210.0,121.0) rotate(0) scale(0.900,0.900)"/>
<use href="#rc" transform="translate(210.0,134.0) rotate(0) scale(0.900,0.900)"/>
<path d="M146,174 L148,182 L145,188 L147,194" stroke="#86a2da" stroke-width="3.1" fill="none" stroke-linecap="round"/><path d="M146,174 L148,182 L145,188 L147,194" stroke="#bed3f6" stroke-width="2" fill="none" stroke-linecap="round"/>
<path d="M176,158 L178,166 L175,172 L177,178" stroke="#86a2da" stroke-width="3.1" fill="none" stroke-linecap="round"/><path d="M176,158 L178,166 L175,172 L177,178" stroke="#bed3f6" stroke-width="2" fill="none" stroke-linecap="round"/>
<path d="M203,143 L205,151 L202,157 L204,163" stroke="#86a2da" stroke-width="3.1" fill="none" stroke-linecap="round"/><path d="M203,143 L205,151 L202,157 L204,163" stroke="#bed3f6" stroke-width="2" fill="none" stroke-linecap="round"/>
<use href="#bb" transform="translate(118.0,258.0) rotate(-20) scale(0.900,0.900)"/>
<use href="#bb" transform="translate(155.0,272.0) rotate(-10) scale(0.850,0.850)"/>
<use href="#ell" transform="translate(178.0,292.0) rotate(20) scale(0.900,0.900)"/>
<path d="M124,254 L126,248 L130,244 L133,238" stroke="#86a2da" stroke-width="3.0" fill="none" stroke-linecap="round"/><path d="M124,254 L126,248 L130,244 L133,238" stroke="#bed3f6" stroke-width="1.9" fill="none" stroke-linecap="round"/><circle cx="133" cy="238" r="1.1" fill="#e3262b"/>
<path d="M167,272 L169,266 L173,262 L176,256" stroke="#86a2da" stroke-width="3.0" fill="none" stroke-linecap="round"/><path d="M167,272 L169,266 L173,262 L176,256" stroke="#bed3f6" stroke-width="1.9" fill="none" stroke-linecap="round"/><circle cx="176" cy="256" r="1.1" fill="#e3262b"/>
<use href="#bb" transform="translate(65.0,290.0) rotate(-5) scale(0.950,0.950)"/>
<use href="#bb" transform="translate(80.0,276.0) rotate(-5) scale(0.950,0.950)"/>
<use href="#bb" transform="translate(108.0,264.0) rotate(5) scale(0.950,0.950)"/>
<use href="#bb" transform="translate(150.0,268.0) rotate(15) scale(0.950,0.950)"/>
<use href="#bb" transform="translate(32.0,307.0) rotate(-15) scale(0.950,0.950)"/>
<use href="#bb" transform="translate(60.0,322.0) rotate(-15) scale(0.950,0.950)"/>
<use href="#bb" transform="translate(92.0,335.0) rotate(15) scale(0.950,0.950)"/>
<use href="#bb" transform="translate(97.0,291.0) rotate(5) scale(0.950,0.950)"/>
<use href="#bb" transform="translate(108.0,300.0) rotate(-5) scale(0.950,0.950)"/>
<use href="#bb" transform="translate(142.0,304.0) rotate(-5) scale(0.950,0.950)"/>
<use href="#bb" transform="translate(124.0,316.0) rotate(15) scale(0.950,0.950)"/>
<use href="#bb" transform="translate(131.0,280.0) rotate(15) scale(0.950,0.950)"/>
<use href="#bs" transform="translate(106.0,272.0) rotate(0) scale(1.000,1.000)"/>
<use href="#bs" transform="translate(135.0,286.0) rotate(0) scale(1.000,1.000)"/>
<use href="#bs" transform="translate(57.0,302.0) rotate(0) scale(1.000,1.000)"/>
<use href="#bs" transform="translate(86.0,317.0) rotate(0) scale(1.000,1.000)"/>
<use href="#lc" transform="translate(16.0,336.0) rotate(0) scale(1.000,1.000)"/>
<use href="#lc" transform="translate(16.0,351.5) rotate(0) scale(1.000,1.000)"/>
<use href="#lc" transform="translate(16.0,367.0) rotate(0) scale(1.000,1.000)"/>
<use href="#lc" transform="translate(16.0,382.5) rotate(0) scale(1.000,1.000)"/>
<path d="M31,335 L28.5,328 L26,323" stroke="#6279c2" stroke-width="3.1" fill="none" stroke-linecap="round"/><path d="M31,335 L28.5,328 L26,323" stroke="#a2b7ec" stroke-width="2" fill="none" stroke-linecap="round"/>
<use href="#lc" transform="translate(45.0,351.0) rotate(0) scale(1.000,1.000)"/>
<use href="#lc" transform="translate(45.0,366.5) rotate(0) scale(1.000,1.000)"/>
<use href="#lc" transform="translate(45.0,382.0) rotate(0) scale(1.000,1.000)"/>
<use href="#lc" transform="translate(45.0,397.5) rotate(0) scale(1.000,1.000)"/>
<path d="M60,350 L57.5,343 L55,338" stroke="#6279c2" stroke-width="3.1" fill="none" stroke-linecap="round"/><path d="M60,350 L57.5,343 L55,338" stroke="#a2b7ec" stroke-width="2" fill="none" stroke-linecap="round"/>
<use href="#lc" transform="translate(74.0,364.0) rotate(0) scale(1.000,1.000)"/>
<use href="#lc" transform="translate(74.0,379.5) rotate(0) scale(1.000,1.000)"/>
<use href="#lc" transform="translate(74.0,395.0) rotate(0) scale(1.000,1.000)"/>
<use href="#lc" transform="translate(74.0,410.5) rotate(0) scale(1.000,1.000)"/>
<path d="M89,363 L86.5,356 L84,351" stroke="#6279c2" stroke-width="3.1" fill="none" stroke-linecap="round"/><path d="M89,363 L86.5,356 L84,351" stroke="#a2b7ec" stroke-width="2" fill="none" stroke-linecap="round"/>
<use href="#rs" transform="translate(118.0,376.0) rotate(0) scale(1.000,1.000)"/>
<use href="#rs" transform="translate(118.0,396.5) rotate(0) scale(1.000,1.000)"/>
<use href="#rs" transform="translate(118.0,417.0) rotate(0) scale(1.000,1.000)"/>
<use href="#rs" transform="translate(166.0,340.0) rotate(0) scale(1.000,1.000)"/>
<use href="#rs" transform="translate(166.0,362.0) rotate(0) scale(1.000,1.000)"/>
<use href="#rs" transform="translate(166.0,384.0) rotate(0) scale(1.000,1.000)"/>
<use href="#rc" transform="translate(151.0,345.0) rotate(0) scale(1.000,1.000)"/>
<use href="#rc" transform="translate(151.0,360.5) rotate(0) scale(1.000,1.000)"/>
<use href="#rc" transform="translate(151.0,376.0) rotate(0) scale(1.000,1.000)"/>
<use href="#rc" transform="translate(151.0,391.5) rotate(0) scale(1.000,1.000)"/>
<use href="#rc" transform="translate(201.0,314.0) rotate(0) scale(1.000,1.000)"/>
<use href="#rc" transform="translate(201.0,329.5) rotate(0) scale(1.000,1.000)"/>
<use href="#rc" transform="translate(201.0,345.0) rotate(0) scale(1.000,1.000)"/>
<use href="#rc" transform="translate(201.0,360.5) rotate(0) scale(1.000,1.000)"/>
<text transform="translate(46.3,23.1) rotate(-30)" font-size="9.6" font-weight="bold" text-anchor="middle" fill="#000">(0 0 1)</text>
<text transform="translate(62.6,191.1) skewY(30)" font-size="9.4" font-weight="bold" text-anchor="middle" fill="#000">(1 0 0)</text>
<text transform="translate(192.1,193.9) skewY(-30.5)" font-size="9.6" font-weight="bold" text-anchor="middle" fill="#000">(0 1 0)</text>
<text transform="translate(71.2,260.1) rotate(-28)" font-size="9.4" font-weight="bold" text-anchor="middle" fill="#000">(0 0-1)</text>
<text transform="translate(47.9,425.7) skewY(32)" font-size="9.6" font-weight="bold" text-anchor="middle" fill="#000">(0-1 0)</text>
<text transform="translate(193.3,407.2) skewY(-29)" font-size="9.6" font-weight="bold" text-anchor="middle" fill="#000">(-1 0 0)</text>
<text x="7.0" y="15.5" font-size="16" font-weight="bold" text-anchor="start" fill="#000" >a</text>
<text x="251.2" y="249.1" font-size="16" font-weight="bold" text-anchor="start" fill="#000" >c</text>
<text x="411.0" y="249.8" font-size="16" font-weight="bold" text-anchor="start" fill="#000" >d</text>
<g transform="translate(326.8,291.7) rotate(0) scale(1,1)"><rect x="-26.80" y="-26.69" width="43.00" height="53.38" fill="#2f4db8"/><circle cx="-23.40" cy="-26.25" r="4.40" fill="#2f4db8"/><circle cx="-23.40" cy="26.25" r="4.40" fill="#2f4db8"/><circle cx="-14.60" cy="-26.25" r="4.40" fill="#2f4db8"/><circle cx="-14.60" cy="26.25" r="4.40" fill="#2f4db8"/><circle cx="-5.80" cy="-26.25" r="4.40" fill="#2f4db8"/><circle cx="-5.80" cy="26.25" r="4.40" fill="#2f4db8"/><circle cx="3.00" cy="-26.25" r="4.40" fill="#2f4db8"/><circle cx="3.00" cy="26.25" r="4.40" fill="#2f4db8"/><circle cx="11.80" cy="-26.25" r="4.40" fill="#2f4db8"/><circle cx="11.80" cy="26.25" r="4.40" fill="#2f4db8"/><path d="M-25.60,-26.25 L-25.09,-24.94 L-24.72,-23.62 L-24.60,-22.31 L-24.77,-21.00 L-25.17,-19.69 L-25.69,-18.38 L-26.19,-17.06 L-26.52,-15.75 L-26.59,-14.44 L-26.38,-13.12 L-25.95,-11.81 L-25.42,-10.50 L-24.94,-9.19 L-24.65,-7.88 L-24.63,-6.56 L-24.88,-5.25 L-25.34,-3.94 L-25.87,-2.62 L-26.33,-1.31 L-26.58,0.00 L-26.55,1.31 L-26.25,2.62 L-25.77,3.94 L-25.24,5.25 L-24.81,6.56 L-24.61,7.88 L-24.69,9.19 L-25.02,10.50 L-25.52,11.81 L-26.05,13.12 L-26.44,14.44 L-26.60,15.75 L-26.47,17.06 L-26.10,18.38 L-25.58,19.69 L-25.07,21.00 L-24.71,22.31 L-24.60,23.62 L-24.78,24.94 L-25.18,26.25" stroke="#2f4db8" stroke-width="4.4" fill="none"/><rect x="15.90" y="-27.13" width="9.60" height="54.26" fill="#e3202a"/><path d="M23.60,-25.85 L22.99,-24.56 L22.55,-23.26 L22.40,-21.97 L22.58,-20.68 L23.04,-19.39 L23.65,-18.09 L24.25,-16.80 L24.67,-15.51 L24.80,-14.22 L24.59,-12.92 L24.12,-11.63 L23.50,-10.34 L22.91,-9.05 L22.51,-7.75 L22.41,-6.46 L22.64,-5.17 L23.13,-3.88 L23.75,-2.59 L24.34,-1.29 L24.71,0.00 L24.79,1.29 L24.53,2.58 L24.02,3.88 L23.39,5.17 L22.82,6.46 L22.47,7.75 L22.42,9.05 L22.70,10.34 L23.23,11.63 L23.86,12.92 L24.41,14.22 L24.75,15.51 L24.77,16.80 L24.46,18.10 L23.92,19.39 L23.29,20.68 L22.75,21.97 L22.44,23.26 L22.45,24.56 L22.77,25.85" stroke="#e3202a" stroke-width="8.40" fill="none" stroke-linecap="round"/><path d="M-19.00,-28.15 L-18.40,-26.74 L-17.99,-25.33 L-17.91,-23.93 L-18.19,-22.52 L-18.73,-21.11 L-19.35,-19.70 L-19.86,-18.30 L-20.10,-16.89 L-19.97,-15.48 L-19.53,-14.07 L-18.92,-12.67 L-18.33,-11.26 L-17.96,-9.85 L-17.93,-8.45 L-18.25,-7.04 L-18.81,-5.63 L-19.43,-4.22 L-19.91,-2.81 L-20.10,-1.41 L-19.93,0.00 L-19.46,1.41 L-18.84,2.81 L-18.27,4.22 L-17.94,5.63 L-17.95,7.04 L-18.31,8.45 L-18.89,9.85 L-19.50,11.26 L-19.96,12.67 L-20.10,14.08 L-19.88,15.48 L-19.38,16.89 L-18.75,18.30 L-18.21,19.70 L-17.92,21.11 L-17.98,22.52 L-18.37,23.93 L-18.97,25.34 L-19.58,26.74 L-19.99,28.15" stroke="#1f3592" stroke-width="1.3" fill="none" opacity="0.7"/><path d="M-10.20,-28.15 L-9.60,-26.74 L-9.19,-25.33 L-9.11,-23.93 L-9.39,-22.52 L-9.93,-21.11 L-10.55,-19.70 L-11.06,-18.30 L-11.30,-16.89 L-11.17,-15.48 L-10.73,-14.07 L-10.12,-12.67 L-9.53,-11.26 L-9.16,-9.85 L-9.13,-8.45 L-9.45,-7.04 L-10.01,-5.63 L-10.63,-4.22 L-11.11,-2.81 L-11.30,-1.41 L-11.13,0.00 L-10.66,1.41 L-10.04,2.81 L-9.47,4.22 L-9.14,5.63 L-9.15,7.04 L-9.51,8.45 L-10.09,9.85 L-10.70,11.26 L-11.16,12.67 L-11.30,14.08 L-11.08,15.48 L-10.58,16.89 L-9.95,18.30 L-9.41,19.70 L-9.12,21.11 L-9.18,22.52 L-9.57,23.93 L-10.17,25.34 L-10.78,26.74 L-11.19,28.15" stroke="#1f3592" stroke-width="1.3" fill="none" opacity="0.7"/><path d="M-1.40,-28.15 L-0.80,-26.74 L-0.39,-25.33 L-0.31,-23.93 L-0.59,-22.52 L-1.13,-21.11 L-1.75,-19.70 L-2.26,-18.30 L-2.50,-16.89 L-2.37,-15.48 L-1.93,-14.07 L-1.32,-12.67 L-0.73,-11.26 L-0.36,-9.85 L-0.33,-8.45 L-0.65,-7.04 L-1.21,-5.63 L-1.83,-4.22 L-2.31,-2.81 L-2.50,-1.41 L-2.33,0.00 L-1.86,1.41 L-1.24,2.81 L-0.67,4.22 L-0.34,5.63 L-0.35,7.04 L-0.71,8.45 L-1.29,9.85 L-1.90,11.26 L-2.36,12.67 L-2.50,14.08 L-2.28,15.48 L-1.78,16.89 L-1.15,18.30 L-0.61,19.70 L-0.32,21.11 L-0.38,22.52 L-0.77,23.93 L-1.37,25.34 L-1.98,26.74 L-2.39,28.15" stroke="#1f3592" stroke-width="1.3" fill="none" opacity="0.7"/><path d="M7.40,-28.15 L8.00,-26.74 L8.41,-25.33 L8.49,-23.93 L8.21,-22.52 L7.67,-21.11 L7.05,-19.70 L6.54,-18.30 L6.30,-16.89 L6.43,-15.48 L6.87,-14.07 L7.48,-12.67 L8.07,-11.26 L8.44,-9.85 L8.47,-8.45 L8.15,-7.04 L7.59,-5.63 L6.97,-4.22 L6.49,-2.81 L6.30,-1.41 L6.47,0.00 L6.94,1.41 L7.56,2.81 L8.13,4.22 L8.46,5.63 L8.45,7.04 L8.09,8.45 L7.51,9.85 L6.90,11.26 L6.44,12.67 L6.30,14.08 L6.52,15.48 L7.02,16.89 L7.65,18.30 L8.19,19.70 L8.48,21.11 L8.42,22.52 L8.03,23.93 L7.43,25.34 L6.82,26.74 L6.41,28.15" stroke="#1f3592" stroke-width="1.3" fill="none" opacity="0.7"/><path d="M16.20,-28.15 L16.53,-26.74 L16.75,-25.33 L16.79,-23.93 L16.64,-22.52 L16.35,-21.11 L16.01,-19.70 L15.73,-18.30 L15.60,-16.89 L15.67,-15.48 L15.91,-14.07 L16.24,-12.67 L16.56,-11.26 L16.77,-9.85 L16.78,-8.45 L16.61,-7.04 L16.31,-5.63 L15.97,-4.22 L15.70,-2.81 L15.60,-1.41 L15.69,0.00 L15.95,1.41 L16.29,2.81 L16.60,4.22 L16.78,5.63 L16.77,7.04 L16.58,8.45 L16.26,9.85 L15.92,11.26 L15.68,12.67 L15.60,14.08 L15.72,15.48 L15.99,16.89 L16.33,18.30 L16.63,19.70 L16.79,21.11 L16.76,22.52 L16.54,23.93 L16.22,25.34 L15.89,26.74 L15.66,28.15" stroke="#5a2a6a" stroke-width="0.8" fill="none" opacity="0.35"/><path d="M19.70,-27.65 L19.16,-26.27 L18.79,-24.88 L18.71,-23.50 L18.94,-22.12 L19.40,-20.74 L19.96,-19.36 L20.44,-17.97 L20.69,-16.59 L20.62,-15.21 L20.27,-13.82 L19.74,-12.44 L19.19,-11.06 L18.81,-9.68 L18.70,-8.30 L18.91,-6.91 L19.37,-5.53 L19.92,-4.15 L20.41,-2.77 L20.68,-1.38 L20.64,0.00 L20.30,1.38 L19.78,2.77 L19.23,4.15 L18.83,5.53 L18.70,6.91 L18.89,8.30 L19.33,9.68 L19.89,11.06 L20.39,12.44 L20.67,13.83 L20.65,15.21 L20.33,16.59 L19.81,17.97 L19.26,19.35 L18.85,20.74 L18.70,22.12 L18.87,23.50 L19.30,24.89 L19.85,26.27 L20.36,27.65" stroke="#b0141c" stroke-width="0.8" fill="none" opacity="0.45"/></g>
<g transform="translate(272.0,386.8) rotate(-122.5) scale(1,1)"><rect x="-25.25" y="-24.43" width="41.50" height="48.85" fill="#2f4db8"/><circle cx="-22.00" cy="-24.00" r="4.25" fill="#2f4db8"/><circle cx="-22.00" cy="24.00" r="4.25" fill="#2f4db8"/><circle cx="-13.50" cy="-24.00" r="4.25" fill="#2f4db8"/><circle cx="-13.50" cy="24.00" r="4.25" fill="#2f4db8"/><circle cx="-5.00" cy="-24.00" r="4.25" fill="#2f4db8"/><circle cx="-5.00" cy="24.00" r="4.25" fill="#2f4db8"/><circle cx="3.50" cy="-24.00" r="4.25" fill="#2f4db8"/><circle cx="3.50" cy="24.00" r="4.25" fill="#2f4db8"/><circle cx="12.00" cy="-24.00" r="4.25" fill="#2f4db8"/><circle cx="12.00" cy="24.00" r="4.25" fill="#2f4db8"/><path d="M-24.05,-24.00 L-23.58,-22.80 L-23.22,-21.60 L-23.05,-20.40 L-23.13,-19.20 L-23.42,-18.00 L-23.87,-16.80 L-24.35,-15.60 L-24.77,-14.40 L-25.01,-13.20 L-25.03,-12.00 L-24.81,-10.80 L-24.41,-9.60 L-23.93,-8.40 L-23.47,-7.20 L-23.15,-6.00 L-23.05,-4.80 L-23.18,-3.60 L-23.52,-2.40 L-23.99,-1.20 L-24.47,0.00 L-24.85,1.20 L-25.04,2.40 L-24.99,3.60 L-24.72,4.80 L-24.29,6.00 L-23.81,7.20 L-23.38,8.40 L-23.11,9.60 L-23.06,10.80 L-23.25,12.00 L-23.63,13.20 L-24.11,14.40 L-24.58,15.60 L-24.92,16.80 L-25.05,18.00 L-24.95,19.20 L-24.63,20.40 L-24.17,21.60 L-23.69,22.80 L-23.29,24.00" stroke="#2f4db8" stroke-width="4.4" fill="none"/><rect x="15.95" y="-24.85" width="8.00" height="49.70" fill="#e3202a"/><path d="M22.05,-24.25 L21.48,-23.04 L21.04,-21.82 L20.85,-20.61 L20.95,-19.40 L21.32,-18.19 L21.87,-16.98 L22.45,-15.76 L22.95,-14.55 L23.22,-13.34 L23.21,-12.12 L22.92,-10.91 L22.41,-9.70 L21.82,-8.49 L21.29,-7.27 L20.94,-6.06 L20.86,-4.85 L21.07,-3.64 L21.52,-2.43 L22.09,-1.21 L22.66,0.00 L23.08,1.21 L23.25,2.43 L23.13,3.64 L22.74,4.85 L22.19,6.06 L21.61,7.27 L21.13,8.49 L20.87,9.70 L20.90,10.91 L21.21,12.12 L21.73,13.34 L22.32,14.55 L22.84,15.76 L23.18,16.98 L23.24,18.19 L23.01,19.40 L22.55,20.61 L21.96,21.83 L21.40,23.04 L21.00,24.25" stroke="#e3202a" stroke-width="8.40" fill="none" stroke-linecap="round"/><path d="M-17.75,-25.75 L-17.20,-24.46 L-16.79,-23.18 L-16.65,-21.89 L-16.81,-20.60 L-17.22,-19.31 L-17.78,-18.02 L-18.33,-16.74 L-18.72,-15.45 L-18.85,-14.16 L-18.67,-12.88 L-18.25,-11.59 L-17.68,-10.30 L-17.14,-9.01 L-16.76,-7.73 L-16.65,-6.44 L-16.85,-5.15 L-17.29,-3.86 L-17.85,-2.57 L-18.39,-1.29 L-18.75,0.00 L-18.84,1.29 L-18.63,2.57 L-18.18,3.86 L-17.61,5.15 L-17.08,6.44 L-16.73,7.73 L-16.66,9.01 L-16.89,10.30 L-17.35,11.59 L-17.92,12.88 L-18.44,14.16 L-18.78,15.45 L-18.83,16.74 L-18.59,18.02 L-18.12,19.31 L-17.55,20.60 L-17.03,21.89 L-16.71,23.17 L-16.67,24.46 L-16.93,25.75" stroke="#1f3592" stroke-width="1.3" fill="none" opacity="0.7"/><path d="M-9.25,-25.75 L-8.70,-24.46 L-8.29,-23.18 L-8.15,-21.89 L-8.31,-20.60 L-8.72,-19.31 L-9.28,-18.02 L-9.83,-16.74 L-10.22,-15.45 L-10.35,-14.16 L-10.17,-12.88 L-9.75,-11.59 L-9.18,-10.30 L-8.64,-9.01 L-8.26,-7.73 L-8.15,-6.44 L-8.35,-5.15 L-8.79,-3.86 L-9.35,-2.57 L-9.89,-1.29 L-10.25,0.00 L-10.34,1.29 L-10.13,2.57 L-9.68,3.86 L-9.11,5.15 L-8.58,6.44 L-8.23,7.73 L-8.16,9.01 L-8.39,10.30 L-8.85,11.59 L-9.42,12.88 L-9.94,14.16 L-10.28,15.45 L-10.33,16.74 L-10.09,18.02 L-9.62,19.31 L-9.05,20.60 L-8.53,21.89 L-8.21,23.17 L-8.17,24.46 L-8.43,25.75" stroke="#1f3592" stroke-width="1.3" fill="none" opacity="0.7"/><path d="M-0.75,-25.75 L-0.20,-24.46 L0.21,-23.18 L0.35,-21.89 L0.19,-20.60 L-0.22,-19.31 L-0.78,-18.02 L-1.33,-16.74 L-1.72,-15.45 L-1.85,-14.16 L-1.67,-12.88 L-1.25,-11.59 L-0.68,-10.30 L-0.14,-9.01 L0.24,-7.73 L0.35,-6.44 L0.15,-5.15 L-0.29,-3.86 L-0.85,-2.57 L-1.39,-1.29 L-1.75,0.00 L-1.84,1.29 L-1.63,2.57 L-1.18,3.86 L-0.61,5.15 L-0.08,6.44 L0.27,7.73 L0.34,9.01 L0.11,10.30 L-0.35,11.59 L-0.92,12.88 L-1.44,14.16 L-1.78,15.45 L-1.83,16.74 L-1.59,18.02 L-1.12,19.31 L-0.55,20.60 L-0.03,21.89 L0.29,23.17 L0.33,24.46 L0.07,25.75" stroke="#1f3592" stroke-width="1.3" fill="none" opacity="0.7"/><path d="M7.75,-25.75 L8.30,-24.46 L8.71,-23.18 L8.85,-21.89 L8.69,-20.60 L8.28,-19.31 L7.72,-18.02 L7.17,-16.74 L6.78,-15.45 L6.65,-14.16 L6.83,-12.88 L7.25,-11.59 L7.82,-10.30 L8.36,-9.01 L8.74,-7.73 L8.85,-6.44 L8.65,-5.15 L8.21,-3.86 L7.65,-2.57 L7.11,-1.29 L6.75,0.00 L6.66,1.29 L6.87,2.57 L7.32,3.86 L7.89,5.15 L8.42,6.44 L8.77,7.73 L8.84,9.01 L8.61,10.30 L8.15,11.59 L7.58,12.88 L7.06,14.16 L6.72,15.45 L6.67,16.74 L6.91,18.02 L7.38,19.31 L7.95,20.60 L8.47,21.89 L8.79,23.17 L8.83,24.46 L8.57,25.75" stroke="#1f3592" stroke-width="1.3" fill="none" opacity="0.7"/><path d="M16.25,-25.75 L16.55,-24.46 L16.77,-23.18 L16.85,-21.89 L16.76,-20.60 L16.54,-19.31 L16.23,-18.02 L15.93,-16.74 L15.72,-15.45 L15.65,-14.16 L15.75,-12.88 L15.98,-11.59 L16.29,-10.30 L16.58,-9.01 L16.79,-7.73 L16.85,-6.44 L16.74,-5.15 L16.50,-3.86 L16.19,-2.57 L15.90,-1.29 L15.70,0.00 L15.65,1.29 L15.77,2.57 L16.01,3.86 L16.32,5.15 L16.61,6.44 L16.80,7.73 L16.84,9.01 L16.72,10.30 L16.47,11.59 L16.16,12.88 L15.87,14.16 L15.69,15.45 L15.66,16.74 L15.79,18.02 L16.05,19.31 L16.36,20.60 L16.64,21.89 L16.82,23.17 L16.84,24.46 L16.70,25.75" stroke="#5a2a6a" stroke-width="0.8" fill="none" opacity="0.35"/><path d="M19.75,-25.25 L19.25,-23.99 L18.89,-22.73 L18.75,-21.46 L18.87,-20.20 L19.23,-18.94 L19.72,-17.68 L20.22,-16.41 L20.59,-15.15 L20.75,-13.89 L20.64,-12.62 L20.30,-11.36 L19.81,-10.10 L19.31,-8.84 L18.92,-7.57 L18.75,-6.31 L18.85,-5.05 L19.18,-3.79 L19.66,-2.52 L20.16,-1.26 L20.56,0.00 L20.74,1.26 L20.67,2.52 L20.35,3.79 L19.87,5.05 L19.36,6.31 L18.96,7.58 L18.76,8.84 L18.82,10.10 L19.13,11.36 L19.60,12.62 L20.11,13.89 L20.52,15.15 L20.74,16.41 L20.69,17.67 L20.40,18.94 L19.93,20.20 L19.42,21.46 L19.00,22.73 L18.77,23.99 L18.80,25.25" stroke="#b0141c" stroke-width="0.8" fill="none" opacity="0.45"/></g>
<g transform="translate(384.2,392.6) rotate(123.7) scale(1,1)"><rect x="-24.00" y="-24.15" width="39.00" height="48.30" fill="#2f4db8"/><circle cx="-21.00" cy="-23.75" r="4.00" fill="#2f4db8"/><circle cx="-21.00" cy="23.75" r="4.00" fill="#2f4db8"/><circle cx="-13.00" cy="-23.75" r="4.00" fill="#2f4db8"/><circle cx="-13.00" cy="23.75" r="4.00" fill="#2f4db8"/><circle cx="-5.00" cy="-23.75" r="4.00" fill="#2f4db8"/><circle cx="-5.00" cy="23.75" r="4.00" fill="#2f4db8"/><circle cx="3.00" cy="-23.75" r="4.00" fill="#2f4db8"/><circle cx="3.00" cy="23.75" r="4.00" fill="#2f4db8"/><circle cx="11.00" cy="-23.75" r="4.00" fill="#2f4db8"/><circle cx="11.00" cy="23.75" r="4.00" fill="#2f4db8"/><path d="M-22.80,-23.75 L-22.33,-22.56 L-21.97,-21.38 L-21.81,-20.19 L-21.87,-19.00 L-22.15,-17.81 L-22.59,-16.62 L-23.07,-15.44 L-23.49,-14.25 L-23.75,-13.06 L-23.79,-11.88 L-23.59,-10.69 L-23.22,-9.50 L-22.74,-8.31 L-22.28,-7.12 L-21.94,-5.94 L-21.80,-4.75 L-21.89,-3.56 L-22.20,-2.38 L-22.64,-1.19 L-23.12,0.00 L-23.53,1.19 L-23.76,2.38 L-23.78,3.56 L-23.56,4.75 L-23.17,5.94 L-22.69,7.12 L-22.23,8.31 L-21.91,9.50 L-21.80,10.69 L-21.92,11.88 L-22.24,13.06 L-22.70,14.25 L-23.18,15.44 L-23.57,16.62 L-23.78,17.81 L-23.76,19.00 L-23.52,20.19 L-23.11,21.38 L-22.63,22.56 L-22.19,23.75" stroke="#2f4db8" stroke-width="4.4" fill="none"/><rect x="14.70" y="-24.55" width="8.00" height="49.10" fill="#e3202a"/><path d="M20.80,-23.75 L20.24,-22.56 L19.81,-21.38 L19.61,-20.19 L19.69,-19.00 L20.02,-17.81 L20.54,-16.62 L21.12,-15.44 L21.63,-14.25 L21.94,-13.06 L21.98,-11.88 L21.75,-10.69 L21.30,-9.50 L20.73,-8.31 L20.18,-7.12 L19.77,-5.94 L19.60,-4.75 L19.71,-3.56 L20.08,-2.38 L20.61,-1.19 L21.19,0.00 L21.67,1.19 L21.96,2.38 L21.97,3.56 L21.71,4.75 L21.24,5.94 L20.66,7.12 L20.12,8.31 L19.74,9.50 L19.60,10.69 L19.74,11.88 L20.13,13.06 L20.68,14.25 L21.25,15.44 L21.72,16.62 L21.97,17.81 L21.95,19.00 L21.67,20.19 L21.18,21.38 L20.60,22.56 L20.07,23.75" stroke="#e3202a" stroke-width="8.40" fill="none" stroke-linecap="round"/><path d="M-17.00,-25.25 L-16.45,-23.99 L-16.05,-22.73 L-15.90,-21.46 L-16.04,-20.20 L-16.43,-18.94 L-16.97,-17.68 L-17.52,-16.41 L-17.93,-15.15 L-18.10,-13.89 L-17.98,-12.62 L-17.60,-11.36 L-17.07,-10.10 L-16.51,-8.84 L-16.09,-7.57 L-15.90,-6.31 L-16.01,-5.05 L-16.37,-3.79 L-16.90,-2.52 L-17.45,-1.26 L-17.89,0.00 L-18.09,1.26 L-18.01,2.52 L-17.66,3.79 L-17.14,5.05 L-16.58,6.31 L-16.13,7.58 L-15.91,8.84 L-15.98,10.10 L-16.31,11.36 L-16.83,12.62 L-17.39,13.89 L-17.85,15.15 L-18.08,16.41 L-18.03,17.67 L-17.71,18.94 L-17.20,20.20 L-16.64,21.46 L-16.17,22.73 L-15.92,23.99 L-15.96,25.25" stroke="#1f3592" stroke-width="1.3" fill="none" opacity="0.7"/><path d="M-9.00,-25.25 L-8.45,-23.99 L-8.05,-22.73 L-7.90,-21.46 L-8.04,-20.20 L-8.43,-18.94 L-8.97,-17.68 L-9.52,-16.41 L-9.93,-15.15 L-10.10,-13.89 L-9.98,-12.62 L-9.60,-11.36 L-9.07,-10.10 L-8.51,-8.84 L-8.09,-7.57 L-7.90,-6.31 L-8.01,-5.05 L-8.37,-3.79 L-8.90,-2.52 L-9.45,-1.26 L-9.89,0.00 L-10.09,1.26 L-10.01,2.52 L-9.66,3.79 L-9.14,5.05 L-8.58,6.31 L-8.13,7.58 L-7.91,8.84 L-7.98,10.10 L-8.31,11.36 L-8.83,12.62 L-9.39,13.89 L-9.85,15.15 L-10.08,16.41 L-10.03,17.67 L-9.71,18.94 L-9.20,20.20 L-8.64,21.46 L-8.17,22.73 L-7.92,23.99 L-7.96,25.25" stroke="#1f3592" stroke-width="1.3" fill="none" opacity="0.7"/><path d="M-1.00,-25.25 L-0.45,-23.99 L-0.05,-22.73 L0.10,-21.46 L-0.04,-20.20 L-0.43,-18.94 L-0.97,-17.68 L-1.52,-16.41 L-1.93,-15.15 L-2.10,-13.89 L-1.98,-12.62 L-1.60,-11.36 L-1.07,-10.10 L-0.51,-8.84 L-0.09,-7.57 L0.10,-6.31 L-0.01,-5.05 L-0.37,-3.79 L-0.90,-2.52 L-1.45,-1.26 L-1.89,0.00 L-2.09,1.26 L-2.01,2.52 L-1.66,3.79 L-1.14,5.05 L-0.58,6.31 L-0.13,7.58 L0.09,8.84 L0.02,10.10 L-0.31,11.36 L-0.83,12.62 L-1.39,13.89 L-1.85,15.15 L-2.08,16.41 L-2.03,17.67 L-1.71,18.94 L-1.20,20.20 L-0.64,21.46 L-0.17,22.73 L0.08,23.99 L0.04,25.25" stroke="#1f3592" stroke-width="1.3" fill="none" opacity="0.7"/><path d="M7.00,-25.25 L7.55,-23.99 L7.95,-22.73 L8.10,-21.46 L7.96,-20.20 L7.57,-18.94 L7.03,-17.68 L6.48,-16.41 L6.07,-15.15 L5.90,-13.89 L6.02,-12.62 L6.40,-11.36 L6.93,-10.10 L7.49,-8.84 L7.91,-7.57 L8.10,-6.31 L7.99,-5.05 L7.63,-3.79 L7.10,-2.52 L6.55,-1.26 L6.11,0.00 L5.91,1.26 L5.99,2.52 L6.34,3.79 L6.86,5.05 L7.42,6.31 L7.87,7.58 L8.09,8.84 L8.02,10.10 L7.69,11.36 L7.17,12.62 L6.61,13.89 L6.15,15.15 L5.92,16.41 L5.97,17.67 L6.29,18.94 L6.80,20.20 L7.36,21.46 L7.83,22.73 L8.08,23.99 L8.04,25.25" stroke="#1f3592" stroke-width="1.3" fill="none" opacity="0.7"/><path d="M15.00,-25.25 L15.30,-23.99 L15.52,-22.73 L15.60,-21.46 L15.53,-20.20 L15.31,-18.94 L15.02,-17.68 L14.72,-16.41 L14.49,-15.15 L14.40,-13.89 L14.47,-12.62 L14.67,-11.36 L14.96,-10.10 L15.26,-8.84 L15.50,-7.57 L15.60,-6.31 L15.54,-5.05 L15.34,-3.79 L15.06,-2.52 L14.75,-1.26 L14.51,0.00 L14.40,1.26 L14.45,2.52 L14.64,3.79 L14.93,5.05 L15.23,6.31 L15.48,7.58 L15.59,8.84 L15.56,10.10 L15.37,11.36 L15.09,12.62 L14.79,13.89 L14.54,15.15 L14.41,16.41 L14.44,17.67 L14.61,18.94 L14.89,20.20 L15.20,21.46 L15.45,22.73 L15.59,23.99 L15.57,25.25" stroke="#5a2a6a" stroke-width="0.8" fill="none" opacity="0.35"/><path d="M18.50,-24.75 L18.01,-23.51 L17.65,-22.27 L17.50,-21.04 L17.60,-19.80 L17.93,-18.56 L18.41,-17.32 L18.90,-16.09 L19.30,-14.85 L19.49,-13.61 L19.43,-12.38 L19.14,-11.14 L18.68,-9.90 L18.18,-8.66 L17.76,-7.43 L17.53,-6.19 L17.54,-4.95 L17.79,-3.71 L18.23,-2.48 L18.73,-1.24 L19.17,0.00 L19.45,1.24 L19.48,2.48 L19.27,3.71 L18.86,4.95 L18.36,6.19 L17.90,7.42 L17.59,8.66 L17.50,9.90 L17.68,11.14 L18.05,12.38 L18.55,13.61 L19.03,14.85 L19.37,16.09 L19.50,17.33 L19.37,18.56 L19.03,19.80 L18.55,21.04 L18.05,22.27 L17.68,23.51 L17.50,24.75" stroke="#b0141c" stroke-width="0.8" fill="none" opacity="0.45"/></g>
<ellipse cx="329.1" cy="359.7" rx="35.8" ry="37.3" fill="#fff" stroke="#000" stroke-width="1.8"/>
<text x="326.9" y="365.8" font-size="11.7" font-weight="bold" text-anchor="middle" fill="#000" >Chimot</text>
<line x1="330.2" y1="292.9" x2="370.57" y2="275.32" stroke="#000" stroke-width="1.9"/>
<polyline points="366.14,281.94 371.30,275.00 362.71,274.05" fill="none" stroke="#000" stroke-width="1.9" stroke-linejoin="miter"/>
<line x1="276.2" y1="379.8" x2="240.59" y2="347.54" stroke="#000" stroke-width="1.9"/>
<polyline points="248.45,348.85 240.00,347.00 242.67,355.22" fill="none" stroke="#000" stroke-width="1.9" stroke-linejoin="miter"/>
<line x1="380.4" y1="383.9" x2="371.85" y2="429.01" stroke="#000" stroke-width="1.9"/>
<polyline points="368.87,421.63 371.70,429.80 377.32,423.23" fill="none" stroke="#000" stroke-width="1.9" stroke-linejoin="miter"/>
<text x="487.0" y="248.8" font-size="8.85" text-anchor="start" fill="#222" >Chimot 1 (+)</text>
<text x="613.6" y="248.8" font-size="8.85" text-anchor="start" fill="#222" >Chimot 2 (+)</text>
<g><ellipse cx="487.30" cy="329.60" rx="21.6" ry="21.9" fill="none" stroke="#e5584e" stroke-width="0.65" stroke-dasharray="1.6 1.2"/><ellipse cx="489.60" cy="327.60" rx="21.0" ry="21.3" fill="none" stroke="#f3b0aa" stroke-width="0.45"/><ellipse cx="492.30" cy="324.90" rx="21.6" ry="21.9" fill="none" stroke="#e5584e" stroke-width="0.65" stroke-dasharray="1.6 1.2"/><ellipse cx="494.60" cy="322.90" rx="21.0" ry="21.3" fill="none" stroke="#f3b0aa" stroke-width="0.45"/><ellipse cx="497.30" cy="320.20" rx="21.6" ry="21.9" fill="none" stroke="#e5584e" stroke-width="0.65" stroke-dasharray="1.6 1.2"/><ellipse cx="499.60" cy="318.20" rx="21.0" ry="21.3" fill="none" stroke="#f3b0aa" stroke-width="0.45"/><ellipse cx="502.30" cy="315.50" rx="21.6" ry="21.9" fill="none" stroke="#e5584e" stroke-width="0.65" stroke-dasharray="1.6 1.2"/><ellipse cx="504.60" cy="313.50" rx="21.0" ry="21.3" fill="none" stroke="#f3b0aa" stroke-width="0.45"/><ellipse cx="507.30" cy="310.80" rx="21.6" ry="21.9" fill="none" stroke="#e5584e" stroke-width="0.65" stroke-dasharray="1.6 1.2"/><ellipse cx="509.60" cy="308.80" rx="21.0" ry="21.3" fill="none" stroke="#f3b0aa" stroke-width="0.45"/><ellipse cx="512.30" cy="306.10" rx="21.6" ry="21.9" fill="none" stroke="#e5584e" stroke-width="0.65" stroke-dasharray="1.6 1.2"/><ellipse cx="514.60" cy="304.10" rx="21.0" ry="21.3" fill="none" stroke="#f3b0aa" stroke-width="0.45"/><ellipse cx="517.30" cy="301.40" rx="21.6" ry="21.9" fill="none" stroke="#e5584e" stroke-width="0.65" stroke-dasharray="1.6 1.2"/><ellipse cx="519.60" cy="299.40" rx="21.0" ry="21.3" fill="none" stroke="#f3b0aa" stroke-width="0.45"/><ellipse cx="522.30" cy="296.70" rx="21.6" ry="21.9" fill="none" stroke="#e5584e" stroke-width="0.65" stroke-dasharray="1.6 1.2"/><ellipse cx="524.60" cy="294.70" rx="21.0" ry="21.3" fill="none" stroke="#f3b0aa" stroke-width="0.45"/><ellipse cx="527.30" cy="292.00" rx="21.6" ry="21.9" fill="none" stroke="#e5584e" stroke-width="0.65" stroke-dasharray="1.6 1.2"/><ellipse cx="529.60" cy="290.00" rx="21.0" ry="21.3" fill="none" stroke="#f3b0aa" stroke-width="0.45"/></g>
<rect x="457.2" y="261.9" width="96.60" height="97.50" fill="none" stroke="#2a2a2a" stroke-width="1.2"/>
<line x1="453.59999999999997" y1="272.3" x2="457.2" y2="272.3" stroke="#111" stroke-width="1"/>
<text x="453.0" y="275.2" font-size="8.3" text-anchor="end" fill="#222" >6.5</text>
<line x1="453.59999999999997" y1="307.0" x2="457.2" y2="307.0" stroke="#111" stroke-width="1"/>
<text x="453.0" y="309.9" font-size="8.3" text-anchor="end" fill="#222" >5.5</text>
<line x1="453.59999999999997" y1="341.8" x2="457.2" y2="341.8" stroke="#111" stroke-width="1"/>
<text x="453.0" y="344.7" font-size="8.3" text-anchor="end" fill="#222" >4.5</text>
<line x1="479.4" y1="359.4" x2="479.4" y2="362.4" stroke="#222" stroke-width="1"/>
<text x="479.4" y="370.0" font-size="8.3" text-anchor="middle" fill="#222" >6.0</text>
<line x1="516.4" y1="359.4" x2="516.4" y2="362.4" stroke="#222" stroke-width="1"/>
<text x="516.4" y="370.0" font-size="8.3" text-anchor="middle" fill="#222" >7.0</text>
<line x1="553.6" y1="359.4" x2="553.6" y2="362.4" stroke="#222" stroke-width="1"/>
<text x="553.6" y="370.0" font-size="8.3" text-anchor="middle" fill="#222" >8.0</text>
<text x="505.6" y="376.6" font-size="9.0" text-anchor="middle" fill="#222" >x (mm)</text>
<text transform="translate(438.4,315.3) rotate(-90)" font-size="9.0" text-anchor="middle" fill="#222">y (mm)</text>
<rect x="462.8" y="267.2" width="20.6" height="17" fill="#c6c6c4"/>
<ellipse cx="472.5" cy="276" rx="2.6" ry="1.8" fill="#2a2a2a" transform="rotate(-25 472.5 276)"/>
<polyline points="457.80,402.42 458.30,402.70 458.80,402.80 459.30,402.70 459.80,402.42 460.30,401.98 460.80,401.42 461.30,400.80 461.80,400.18 462.30,399.62 462.80,399.18 463.30,398.90 463.80,398.80 464.30,398.90 464.80,399.18 465.30,399.62 465.80,400.18 466.30,400.80 466.80,401.42 467.30,401.98 467.80,402.42 468.30,402.70 468.80,402.80 469.30,402.70 469.80,402.42 470.30,401.98 470.80,401.42 471.30,400.80 471.80,400.18 472.30,399.62 472.80,399.18 473.30,398.90 473.80,398.80 474.30,398.90 474.80,399.18 475.30,399.62 475.80,400.18 476.30,400.80 476.80,401.42 477.30,401.98 477.80,402.42 478.30,402.70 478.80,402.80 479.30,402.70 479.80,402.42 480.30,401.98 480.80,401.42 481.30,400.80 481.80,400.18 482.30,399.62 482.80,399.18 483.30,398.90 483.80,398.80 484.30,398.90 484.80,399.18 485.30,399.62 485.80,400.18 486.30,400.80 486.80,401.42 487.30,401.98 487.80,402.42 488.30,402.70 488.80,402.80 489.30,402.70 489.80,402.42 490.30,401.98 490.80,401.42 491.30,400.80 491.80,400.18 492.30,399.62 492.80,399.18 493.30,398.90 493.80,398.80 494.30,398.90 494.80,399.18 495.30,399.62 495.80,400.18 496.30,400.80 496.80,401.42 497.30,401.98 497.80,402.42 498.30,402.70 498.80,402.80 499.30,402.70 499.80,402.42 500.30,401.98 500.80,401.42 501.30,400.80 501.80,400.18 502.30,399.62 502.80,399.18 503.30,398.90 503.80,398.80 504.30,398.90 504.80,399.18 505.30,399.62 505.80,400.18 506.30,400.80 506.80,401.42 507.30,401.98 507.80,402.42 508.30,402.70 508.80,402.80 509.30,402.70 509.80,402.42 510.30,401.98 510.80,401.42 511.30,400.80 511.80,400.18 512.30,399.62 512.80,399.18 513.30,398.90 513.80,398.80 514.30,398.90 514.80,399.18 515.30,399.62 515.80,400.18 516.30,400.80 516.80,401.42 517.30,401.98 517.80,402.42 518.30,402.70 518.80,402.80 519.30,402.70 519.80,402.42 520.30,401.98 520.80,401.42 521.30,400.80 521.80,400.18 522.30,399.62 522.80,399.18 523.30,398.90 523.80,398.80 524.30,398.90 524.80,399.18 525.30,399.62 525.80,400.18 526.30,400.80 526.80,401.42 527.30,401.98 527.80,402.42 528.30,402.70 528.80,402.80 529.30,402.70 529.80,402.42 530.30,401.98 530.80,401.42 531.30,400.80 531.80,400.18 532.30,399.62 532.80,399.18 533.30,398.90 533.80,398.80 534.30,398.90 534.80,399.18 535.30,399.62 535.80,400.18 536.30,400.80 536.80,401.42 537.30,401.98 537.80,402.42 538.30,402.70 538.80,402.80 539.30,402.70 539.80,402.42 540.30,401.98 540.80,401.42 541.30,400.80 541.80,400.18 542.30,399.62 542.80,399.18 543.30,398.90 543.80,398.80 544.30,398.90 544.80,399.18 545.30,399.62 545.80,400.18 546.30,400.80 546.80,401.42 547.30,401.98 547.80,402.42 548.30,402.70 548.80,402.80 549.30,402.70 549.80,402.42 550.30,401.98 550.80,401.42 551.30,400.80 551.80,400.18 552.30,399.62 552.80,399.18 553.30,398.90 553.80,398.80" fill="none" stroke="#f4b0ab" stroke-width="0.5"/>
<polyline points="457.80,402.74 458.30,402.85 458.80,402.74 459.30,402.43 459.80,401.94 460.30,401.33 460.80,400.65 461.30,399.97 461.80,399.36 462.30,398.87 462.80,398.56 463.30,398.45 463.80,398.56 464.30,398.87 464.80,399.36 465.30,399.97 465.80,400.65 466.30,401.33 466.80,401.94 467.30,402.43 467.80,402.74 468.30,402.85 468.80,402.74 469.30,402.43 469.80,401.94 470.30,401.33 470.80,400.65 471.30,399.97 471.80,399.36 472.30,398.87 472.80,398.56 473.30,398.45 473.80,398.56 474.30,398.87 474.80,399.36 475.30,399.97 475.80,400.65 476.30,401.33 476.80,401.94 477.30,402.43 477.80,402.74 478.30,402.85 478.80,402.74 479.30,402.43 479.80,401.94 480.30,401.33 480.80,400.65 481.30,399.97 481.80,399.36 482.30,398.87 482.80,398.56 483.30,398.45 483.80,398.56 484.30,398.87 484.80,399.36 485.30,399.97 485.80,400.65 486.30,401.33 486.80,401.94 487.30,402.43 487.80,402.74 488.30,402.85 488.80,402.74 489.30,402.43 489.80,401.94 490.30,401.33 490.80,400.65 491.30,399.97 491.80,399.36 492.30,398.87 492.80,398.56 493.30,398.45 493.80,398.56 494.30,398.87 494.80,399.36 495.30,399.97 495.80,400.65 496.30,401.33 496.80,401.94 497.30,402.43 497.80,402.74 498.30,402.85 498.80,402.74 499.30,402.43 499.80,401.94 500.30,401.33 500.80,400.65 501.30,399.97 501.80,399.36 502.30,398.87 502.80,398.56 503.30,398.45 503.80,398.56 504.30,398.87 504.80,399.36 505.30,399.97 505.80,400.65 506.30,401.33 506.80,401.94 507.30,402.43 507.80,402.74 508.30,402.85 508.80,402.74 509.30,402.43 509.80,401.94 510.30,401.33 510.80,400.65 511.30,399.97 511.80,399.36 512.30,398.87 512.80,398.56 513.30,398.45 513.80,398.56 514.30,398.87 514.80,399.36 515.30,399.97 515.80,400.65 516.30,401.33 516.80,401.94 517.30,402.43 517.80,402.74 518.30,402.85 518.80,402.74 519.30,402.43 519.80,401.94 520.30,401.33 520.80,400.65 521.30,399.97 521.80,399.36 522.30,398.87 522.80,398.56 523.30,398.45 523.80,398.56 524.30,398.87 524.80,399.36 525.30,399.97 525.80,400.65 526.30,401.33 526.80,401.94 527.30,402.43 527.80,402.74 528.30,402.85 528.80,402.74 529.30,402.43 529.80,401.94 530.30,401.33 530.80,400.65 531.30,399.97 531.80,399.36 532.30,398.87 532.80,398.56 533.30,398.45 533.80,398.56 534.30,398.87 534.80,399.36 535.30,399.97 535.80,400.65 536.30,401.33 536.80,401.94 537.30,402.43 537.80,402.74 538.30,402.85 538.80,402.74 539.30,402.43 539.80,401.94 540.30,401.33 540.80,400.65 541.30,399.97 541.80,399.36 542.30,398.87 542.80,398.56 543.30,398.45 543.80,398.56 544.30,398.87 544.80,399.36 545.30,399.97 545.80,400.65 546.30,401.33 546.80,401.94 547.30,402.43 547.80,402.74 548.30,402.85 548.80,402.74 549.30,402.43 549.80,401.94 550.30,401.33 550.80,400.65 551.30,399.97 551.80,399.36 552.30,398.87 552.80,398.56 553.30,398.45 553.80,398.56" fill="none" stroke="#ec7a72" stroke-width="0.8" stroke-dasharray="1.6 1.1"/>
<rect x="457.4" y="390.5" width="96.30" height="38.80" fill="none" stroke="#2a2a2a" stroke-width="1.2"/>
<line x1="453.79999999999995" y1="398.4" x2="457.4" y2="398.4" stroke="#111" stroke-width="1"/>
<text x="453.2" y="401.29999999999995" font-size="8.3" text-anchor="end" fill="#222" >0.8</text>
<line x1="453.79999999999995" y1="414.2" x2="457.4" y2="414.2" stroke="#111" stroke-width="1"/>
<text x="453.2" y="417.09999999999997" font-size="8.3" text-anchor="end" fill="#222" >0.4</text>
<line x1="476.3" y1="429.3" x2="476.3" y2="432.3" stroke="#222" stroke-width="1"/>
<text x="476.3" y="439.0" font-size="8.3" text-anchor="middle" fill="#222" >10</text>
<line x1="514.0" y1="429.3" x2="514.0" y2="432.3" stroke="#222" stroke-width="1"/>
<text x="514.0" y="439.0" font-size="8.3" text-anchor="middle" fill="#222" >30</text>
<line x1="552.0" y1="429.3" x2="552.0" y2="432.3" stroke="#222" stroke-width="1"/>
<text x="552.0" y="439.0" font-size="8.3" text-anchor="middle" fill="#222" >50</text>
<text x="505.5" y="446.4" font-size="8.4" text-anchor="middle" fill="#222" >t (s)</text>
<text transform="translate(438.5,409.5) rotate(-90)" font-size="8.6" text-anchor="middle" fill="#222">v (mm·s<tspan dy="-3" font-size="5.5">-1</tspan><tspan dy="3">)</tspan></text>
<polyline points="595.78,343.91 595.60,342.31 595.77,340.63 596.31,338.98 597.19,337.43 598.37,336.09 599.80,335.01 601.39,334.25 603.05,333.85 604.70,333.81 606.23,334.12 607.56,334.72 608.63,335.57 609.37,336.58 609.76,337.67 609.79,338.74 609.47,339.69 608.85,340.44 607.99,340.93 606.97,341.09 605.87,340.90 604.79,340.35 603.83,339.46 603.06,338.26 602.57,336.82 602.39,335.22 602.58,333.54 603.12,331.89 604.00,330.35 605.19,329.00 606.62,327.93 608.21,327.18 609.88,326.79 611.52,326.75 613.05,327.06 614.38,327.67 615.44,328.53 616.18,329.54 616.56,330.63 616.58,331.69 616.26,332.64 615.63,333.39 614.77,333.87 613.74,334.03 612.65,333.83 611.57,333.28 610.61,332.38 609.85,331.17 609.36,329.73 609.19,328.13 609.38,326.45 609.93,324.80 610.82,323.26 612.01,321.92 613.44,320.85 615.03,320.11 616.70,319.72 618.34,319.69 619.87,320.01 621.19,320.63 622.25,321.48 622.98,322.50 623.36,323.58 623.37,324.65 623.04,325.60 622.41,326.34 621.55,326.82 620.52,326.97 619.42,326.77 618.35,326.20 617.39,325.30 616.63,324.09 616.15,322.64 615.98,321.04 616.18,319.36 616.73,317.71 617.63,316.17 618.83,314.84 620.26,313.78 621.86,313.04 623.52,312.66 625.16,312.63 626.69,312.96 628.01,313.58 629.06,314.44 629.78,315.45 630.15,316.54 630.16,317.60 629.83,318.55 629.20,319.29 628.33,319.76 627.30,319.91 626.20,319.70 625.12,319.13 624.17,318.22 623.42,317.00 622.94,315.55 622.78,313.95 622.98,312.27 623.54,310.62 624.44,309.09 625.65,307.76 627.08,306.70 628.68,305.97 630.35,305.59 631.99,305.58 633.51,305.90 634.83,306.53 635.87,307.39 636.59,308.41 636.95,309.50 636.96,310.56 636.62,311.50 635.98,312.24 635.10,312.71 634.07,312.85 632.97,312.63 631.90,312.05 630.95,311.14 630.20,309.92 629.72,308.47 629.58,306.86 629.78,305.18 630.35,303.53 631.26,302.00 632.46,300.67 633.91,299.62 635.51,298.90 637.17,298.53 638.81,298.52 640.33,298.85 641.64,299.48 642.68,300.34 643.39,301.37 643.75,302.45 643.75,303.51 643.40,304.45 642.76,305.19 641.88,305.65 640.85,305.78 639.75,305.56 638.68,304.98 637.73,304.06 636.98,302.83 636.51,301.38 636.37,299.77 636.58,298.09 637.16,296.44 638.07,294.91 639.28,293.59 640.73,292.55 642.33,291.83 643.99,291.46 645.63,291.46 647.15,291.80 648.46,292.43 649.49,293.30 650.20,294.32 650.55,295.41 650.54,296.47 650.19,297.41 649.54,298.14 648.66,298.59 647.63,298.72 646.53,298.49 645.46,297.90 644.51,296.98 643.77,295.75 643.30,294.29 643.17,292.68 643.39,291.00 643.96,289.35 644.88,287.83 646.10,286.51 647.55,285.47 649.15,284.75 650.82,284.40 652.45,284.40 653.97,284.74 655.27,285.38 656.30,286.25 657.00,287.28 657.35,288.37 657.33,289.43 656.98,290.36 656.32,291.09 655.44,291.54 654.40,291.66 653.30,291.42 652.23,290.83 651.29,289.89 650.55,288.66 650.09,287.20 649.96,285.59 650.19,283.91 650.77,282.26 651.70,280.74 652.92,279.43 654.37,278.39 655.98,277.68 657.64,277.33 659.28,277.34 660.79,277.69 662.09,278.33 663.11,279.21 663.81,280.24 664.14,281.33 664.12,282.38 663.76,283.31 663.11,284.04 662.22,284.48 661.18,284.60 660.08,284.36 659.01,283.75 658.07,282.81 657.34,281.58 656.88,280.11 656.76,278.50 656.99,276.82 657.58,275.17 658.51,273.65 659.74,272.35 661.19,271.31 662.80,270.61 664.47,270.27 666.10,270.28 667.61,270.64 668.90,271.29 669.92,272.16 670.61,273.19 670.94,274.28 670.91,275.34 670.55,276.27 669.89,276.98 669.00,277.42" fill="none" stroke="#9ea9de" stroke-width="0.85"/>
<polyline points="604.20,297.30 603.75,298.72 603.04,299.98 602.13,301.02 601.07,301.79 599.95,302.27 598.84,302.45 597.83,302.34 596.97,301.98 596.33,301.42 595.96,300.71 595.88,299.94 596.10,299.18 596.61,298.51 597.37,298.01 598.33,297.72 599.44,297.70 600.61,297.97 601.76,298.54 602.83,299.40 603.74,300.51 604.42,301.82 604.84,303.28 604.97,304.80 604.80,306.30 604.34,307.72 603.62,308.98 602.71,310.01 601.65,310.78 600.53,311.25 599.43,311.43 598.41,311.32 597.55,310.95 596.92,310.39 596.55,309.68 596.48,308.91 596.70,308.15 597.22,307.49 597.98,306.98 598.95,306.70 600.05,306.68 601.46,306.84 602.87,307.30 604.19,308.04 605.35,309.03 606.28,310.23 606.95,311.56 607.32,312.96 607.40,314.34 607.18,315.63 606.72,316.76 606.05,317.67 605.25,318.31 604.38,318.66 603.53,318.71 602.77,318.47 602.17,317.98 601.79,317.29 601.68,316.46 601.86,315.57 602.35,314.69 603.12,313.90 604.14,313.28 605.36,312.88 606.72,312.74 608.14,312.90 609.55,313.36 610.87,314.11 612.02,315.10 612.95,316.30 613.62,317.64 613.99,319.03 614.05,320.42 613.84,321.71 613.37,322.83 612.70,323.74 611.90,324.38 611.03,324.72 610.18,324.76 609.42,324.52 608.85,323.97 608.57,323.09 608.55,322.07 608.83,321.00 609.41,319.94 610.28,318.97 611.39,318.16 612.71,317.58 614.16,317.27 615.68,317.25 617.18,317.53 618.58,318.10 619.82,318.92 620.84,319.93 621.59,321.09 622.05,322.30 622.20,323.50 622.07,324.61 621.69,325.55 621.11,326.26 620.39,326.71 619.62,326.87 618.86,326.72 618.19,326.29 617.69,325.61 617.41,324.73 617.40,323.71 617.69,322.64 618.27,321.58 619.14,320.61 620.26,319.81 621.58,319.23 623.03,318.93 624.55,318.91 626.05,319.20 627.45,319.77 628.69,320.59 629.70,321.61 630.45,322.77 630.90,323.98 631.05,325.18 630.91,326.28 630.53,327.22 629.94,327.93 629.23,328.25 628.45,328.27 627.69,327.98 627.03,327.41 626.53,326.59 626.26,325.57 626.25,324.42 626.54,323.21 627.13,322.02 628.01,320.92 629.13,319.99 630.46,319.28 631.91,318.84 633.43,318.70 634.93,318.86 636.33,319.30 637.56,319.99 638.57,320.88 639.31,321.90 639.76,322.98 639.91,324.04 639.77,325.01 639.38,325.81 638.80,326.38 638.08,326.69 637.30,326.70 636.54,326.41 635.88,325.84 635.39,325.01 635.12,323.99 635.12,322.84 635.41,321.63 636.01,320.43 636.89,319.34 638.02,318.41 639.34,317.71 640.80,317.27 642.32,317.14 643.81,317.30 645.21,317.74 646.45,318.44 647.45,319.33 648.19,320.35 648.63,321.43 648.77,322.50 648.63,323.46 648.14,324.07 647.45,324.44 646.62,324.54 645.74,324.34 644.88,323.85 644.12,323.07 643.52,322.04 643.15,320.82 643.05,319.46 643.25,318.05 643.74,316.66 644.52,315.37 645.55,314.24 646.78,313.34 648.13,312.71 649.54,312.38 650.94,312.35 652.23,312.60 653.35,313.10 654.25,313.79 654.88,314.62 655.21,315.50 655.24,316.36 654.99,317.12 654.49,317.71 653.80,318.08 652.97,318.17 652.09,317.97 651.23,317.47 650.47,316.69 649.88,315.66 649.51,314.43 649.42,313.08 649.62,311.66 650.12,310.27 650.90,308.98 651.93,307.86 653.16,306.97 654.52,306.34 655.93,306.01 657.32,305.99 658.58,306.21 659.64,306.67 660.47,307.31 661.03,308.09 661.30,308.92 661.26,309.73 660.95,310.44 660.38,310.98 659.62,311.29 658.73,311.33 657.78,311.08 656.86,310.52 656.04,309.68 655.39,308.60 654.97,307.32 654.82,305.91 654.96,304.45 655.40,303.01 656.13,301.67 657.10,300.50 658.27,299.56 659.57,298.89 660.92,298.52 662.24,298.44 663.47,298.65 664.52,299.11 665.35,299.76 665.91,300.53 666.17,301.37 666.13,302.17 665.80,302.88 665.24,303.42 664.47,303.72 663.58,303.76 662.64,303.50 661.72,302.94 660.90,302.10 660.25,301.01 659.83,299.73 659.68,298.32 659.83,296.85 660.28,295.41 661.01,294.08 661.99,292.91 663.16,291.98 664.47,291.32 665.83,290.96 667.16,290.89 668.40,291.11 669.46,291.58 670.29,292.24 670.86,293.03 671.12,293.87 671.09,294.68 670.77,295.39 670.21,295.93 669.45,296.24 668.57,296.28 667.64,296.02 666.73,295.47 665.92,294.63 665.29,293.54 664.89,292.26 664.75,290.86 664.92,289.40 665.38,287.97 666.13,286.64 667.12,285.49 668.30,284.56 669.61,283.91 670.97,283.55 672.31,283.50 673.54,283.72 674.60,284.19 675.43,284.85 675.99,285.64 676.25,286.48 676.21,287.29 675.89,288.00 675.32,288.54 674.56,288.85 673.68,288.88 672.74,288.62 671.84,288.05 671.03,287.21 670.40,286.12 670.00,284.84" fill="none" stroke="#3f4db5" stroke-width="1.0" stroke-dasharray="1.2 1.5"/>
<rect x="585.6" y="261.9" width="96.80" height="97.50" fill="none" stroke="#2a2a2a" stroke-width="1.2"/>
<line x1="582.0" y1="266.1" x2="585.6" y2="266.1" stroke="#111" stroke-width="1"/>
<text x="581.4" y="269.0" font-size="8.3" text-anchor="end" fill="#222" >25</text>
<line x1="582.0" y1="310.0" x2="585.6" y2="310.0" stroke="#111" stroke-width="1"/>
<text x="581.4" y="312.9" font-size="8.3" text-anchor="end" fill="#222" >15</text>
<line x1="582.0" y1="354.5" x2="585.6" y2="354.5" stroke="#111" stroke-width="1"/>
<text x="581.4" y="357.4" font-size="8.3" text-anchor="end" fill="#222" >5</text>
<line x1="585.9" y1="359.4" x2="585.9" y2="362.4" stroke="#222" stroke-width="1"/>
<text x="585.9" y="369.8" font-size="8.3" text-anchor="middle" fill="#222" >10</text>
<line x1="627.4" y1="359.4" x2="627.4" y2="362.4" stroke="#222" stroke-width="1"/>
<text x="627.4" y="369.8" font-size="8.3" text-anchor="middle" fill="#222" >20</text>
<line x1="669.5" y1="359.4" x2="669.5" y2="362.4" stroke="#222" stroke-width="1"/>
<text x="669.5" y="369.8" font-size="8.3" text-anchor="middle" fill="#222" >30</text>
<text x="634.3" y="378.2" font-size="8.7" text-anchor="middle" fill="#222" >x (mm)</text>
<text transform="translate(570.0,313.6) rotate(-90)" font-size="9.0" text-anchor="middle" fill="#222">y (mm)</text>
<rect x="590.4" y="267.4" width="19.6" height="16.6" fill="#9a968e"/>
<path d="M594.5,279.5 L598,275 L603.5,273.2 L606,276 L600.5,280.5 Z" fill="#4a3a22"/>
<line x1="622.6" y1="344.4" x2="635.2" y2="344.4" stroke="#555" stroke-width="0.9" stroke-dasharray="1.4 1.3"/>
<text x="637.9" y="347.3" font-size="8.45" text-anchor="start" fill="#222" >experiment</text>
<line x1="622.6" y1="353.8" x2="635.2" y2="353.8" stroke="#d6d6d6" stroke-width="1.5"/>
<text x="637.9" y="355.6" font-size="8.15" text-anchor="start" fill="#222" >model</text>
<polyline points="586.00,406.60 586.50,410.44 587.00,413.74 587.50,416.06 588.00,417.07 588.50,416.63 589.00,414.81 589.50,411.85 590.00,408.16 590.50,404.26 591.00,400.69 591.50,397.92 592.00,396.36 592.50,396.22 593.00,397.51 593.50,400.05 594.00,403.51 594.50,407.38 595.00,411.16 595.50,414.30 596.00,416.37 596.50,417.10 597.00,416.37 597.50,414.30 598.00,411.16 598.50,407.38 599.00,403.51 599.50,400.05 600.00,397.51 600.50,396.22 601.00,396.36 601.50,397.92 602.00,400.69 602.50,404.26 603.00,408.16 603.50,411.85 604.00,414.81 604.50,416.63 605.00,417.07 605.50,416.06 606.00,413.74 606.50,410.44 607.00,406.60 607.50,402.76 608.00,399.46 608.50,397.14 609.00,396.13 609.50,396.57 610.00,398.39 610.50,401.35 611.00,405.04 611.50,408.94 612.00,412.51 612.50,415.28 613.00,416.84 613.50,416.98 614.00,415.69 614.50,413.15 615.00,409.69 615.50,405.82 616.00,402.04 616.50,398.90 617.00,396.83 617.50,396.10 618.00,396.83 618.50,398.90 619.00,402.04 619.50,405.82 620.00,409.69 620.50,413.15 621.00,415.69 621.50,416.98 622.00,416.84 622.50,415.28 623.00,412.51 623.50,408.94 624.00,405.04 624.50,401.35 625.00,398.39 625.50,396.57 626.00,396.13 626.50,397.14 627.00,399.46 627.50,402.76 628.00,406.60 628.50,410.44 629.00,413.74 629.50,416.06 630.00,417.07 630.50,416.63 631.00,414.81 631.50,411.85 632.00,408.16 632.50,404.26 633.00,400.69 633.50,397.92 634.00,396.36 634.50,396.22 635.00,397.51 635.50,400.05 636.00,403.51 636.50,407.38 637.00,411.16 637.50,414.30 638.00,416.37 638.50,417.10 639.00,416.37 639.50,414.30 640.00,411.16 640.50,407.38 641.00,403.51 641.50,400.05 642.00,397.51 642.50,396.22 643.00,396.36 643.50,397.92 644.00,400.69 644.50,404.26 645.00,408.16 645.50,411.85 646.00,414.81 646.50,416.63 647.00,417.07 647.50,416.06 648.00,413.74 648.50,410.44 649.00,406.60 649.50,402.76 650.00,399.46 650.50,397.14 651.00,396.13 651.50,396.57 652.00,398.39 652.50,401.35 653.00,405.04 653.50,408.94 654.00,412.51 654.50,415.28 655.00,416.84 655.50,416.98 656.00,415.69 656.50,413.15 657.00,409.69 657.50,405.82 658.00,402.04 658.50,398.90 659.00,396.83 659.50,396.10 660.00,396.83 660.50,398.90 661.00,402.04 661.50,405.82 662.00,409.69 662.50,413.15 663.00,415.69 663.50,416.98 664.00,416.84 664.50,415.28 665.00,412.51 665.50,408.94 666.00,405.04 666.50,401.35 667.00,398.39 667.50,396.57 668.00,396.13 668.50,397.14 669.00,399.46 669.50,402.76 670.00,406.60 670.50,410.44 671.00,413.74 671.50,416.06 672.00,417.07 672.50,416.63 673.00,414.81 673.50,411.85 674.00,408.16 674.50,404.26 675.00,400.69 675.50,397.92 676.00,396.36 676.50,396.22 677.00,397.51 677.50,400.05 678.00,403.51 678.50,407.38 679.00,411.16 679.50,414.30 680.00,416.37 680.50,417.10 681.00,416.37 681.50,414.30 682.00,411.16 682.50,407.38 683.00,403.51" fill="none" stroke="#b3bbe4" stroke-width="0.7"/>
<polyline points="586.00,406.72 586.50,410.03 587.00,412.89 587.50,414.94 588.00,415.93 588.50,415.74 589.00,414.38 589.50,412.03 590.00,408.98 590.50,405.61 591.00,402.33 591.50,399.56 592.00,397.65 592.50,396.82 593.00,397.20 593.50,398.72 594.00,401.22 594.50,404.36 595.00,407.77 595.50,411.00 596.00,413.66 596.50,415.40 597.00,416.00 597.50,415.38 598.00,413.62 598.50,410.93 599.00,407.66 599.50,404.22 600.00,401.06 600.50,398.59 601.00,397.12 601.50,396.85 602.00,397.83 602.50,399.92 603.00,402.87 603.50,406.28 604.00,409.71 604.50,412.71 605.00,414.88 605.50,415.93 606.00,415.71 606.50,414.25 607.00,411.74 607.50,408.51 608.00,405.00 608.50,401.66 609.00,398.97 609.50,397.27 610.00,396.82 610.50,397.66 611.00,399.70 611.50,402.66 612.00,406.14 612.50,409.65 613.00,412.72 613.50,414.92 614.00,415.95 614.50,415.65 615.00,414.07 615.50,411.42 616.00,408.07 616.50,404.49 617.00,401.17 617.50,398.58 618.00,397.08 618.50,396.89 619.00,398.03 619.50,400.34 620.00,403.51 620.50,407.08 621.00,410.56 621.50,413.45 622.00,415.35 622.50,416.00 623.00,415.30 623.50,413.34 624.00,410.41 624.50,406.92 625.00,403.36 625.50,400.22 626.00,397.95 626.50,396.87 627.00,397.12 627.50,398.66 628.00,401.28 628.50,404.62 629.00,408.20 629.50,411.52 630.00,414.14 630.50,415.68 631.00,415.94 631.50,414.88 632.00,412.66 632.50,409.58 633.00,406.07 633.50,402.60 634.00,399.66 634.50,397.64 635.00,396.81 635.50,397.28 636.00,398.98 636.50,401.68 637.00,405.00 637.50,408.51 638.00,411.74 638.50,414.24 639.00,415.71 639.50,415.93 640.00,414.90 640.50,412.75 641.00,409.77 641.50,406.35 642.00,402.94 642.50,399.99 643.00,397.87 643.50,396.86 644.00,397.09 644.50,398.51 645.00,400.95 645.50,404.08 646.00,407.51 646.50,410.79 647.00,413.50 647.50,415.32 648.00,416.00 648.50,415.46 649.00,413.78 649.50,411.18 650.00,407.97 650.50,404.57 651.00,401.40 651.50,398.86 652.00,397.26 652.50,396.81 653.00,397.55 653.50,399.40 654.00,402.12 654.50,405.37 655.00,408.75 655.50,411.83 656.00,414.24 656.50,415.68 657.00,415.96 657.50,415.05 658.00,413.07 658.50,410.26 659.00,406.96 659.50,403.60 660.00,400.58 660.50,398.29 661.00,397.01 661.50,396.90 662.00,397.98 662.50,400.12 663.00,403.04 663.50,406.39 664.00,409.74 664.50,412.68 665.00,414.82 665.50,415.90 666.00,415.78 666.50,414.46 667.00,412.12 667.50,409.04 668.00,405.62 668.50,402.30 669.00,399.50 669.50,397.59 670.00,396.81 670.50,397.28 671.00,398.93 671.50,401.55 672.00,404.82 672.50,408.29 673.00,411.52 673.50,414.09 674.00,415.63 674.50,415.96 675.00,415.02 675.50,412.93 676.00,409.96 676.50,406.51 677.00,403.05 677.50,400.03 678.00,397.86 678.50,396.85 679.00,397.14 679.50,398.68 680.00,401.28 680.50,404.58 681.00,408.14 681.50,411.46 682.00,414.09 682.50,415.65 683.00,415.95" fill="none" stroke="#5563b8" stroke-width="0.75" stroke-dasharray="1.1 1.4"/>
<rect x="585.6" y="390.5" width="96.80" height="38.70" fill="none" stroke="#2a2a2a" stroke-width="1.2"/>
<line x1="582.0" y1="403.6" x2="585.6" y2="403.6" stroke="#111" stroke-width="1"/>
<text x="581.4" y="406.5" font-size="8.3" text-anchor="end" fill="#222" >2</text>
<line x1="582.0" y1="416.6" x2="585.6" y2="416.6" stroke="#111" stroke-width="1"/>
<text x="581.4" y="419.5" font-size="8.3" text-anchor="end" fill="#222" >1</text>
<line x1="609.8" y1="429.2" x2="609.8" y2="432.2" stroke="#222" stroke-width="1"/>
<text x="609.8" y="439.0" font-size="8.3" text-anchor="middle" fill="#222" >10</text>
<line x1="632.8" y1="429.2" x2="632.8" y2="432.2" stroke="#222" stroke-width="1"/>
<text x="632.8" y="439.0" font-size="8.3" text-anchor="middle" fill="#222" >20</text>
<line x1="656.4" y1="429.2" x2="656.4" y2="432.2" stroke="#222" stroke-width="1"/>
<text x="656.4" y="439.0" font-size="8.3" text-anchor="middle" fill="#222" >30</text>
<line x1="680.0" y1="429.2" x2="680.0" y2="432.2" stroke="#222" stroke-width="1"/>
<text x="680.0" y="439.0" font-size="8.3" text-anchor="middle" fill="#222" >40</text>
<text x="634.2" y="446.4" font-size="8.4" text-anchor="middle" fill="#222" >t (s)</text>
<text transform="translate(571.6,409.2) rotate(-90)" font-size="8.6" text-anchor="middle" fill="#222">v (mm·s<tspan dy="-3" font-size="5.5">-1</tspan><tspan dy="3">)</tspan></text>
</svg></body></html>
